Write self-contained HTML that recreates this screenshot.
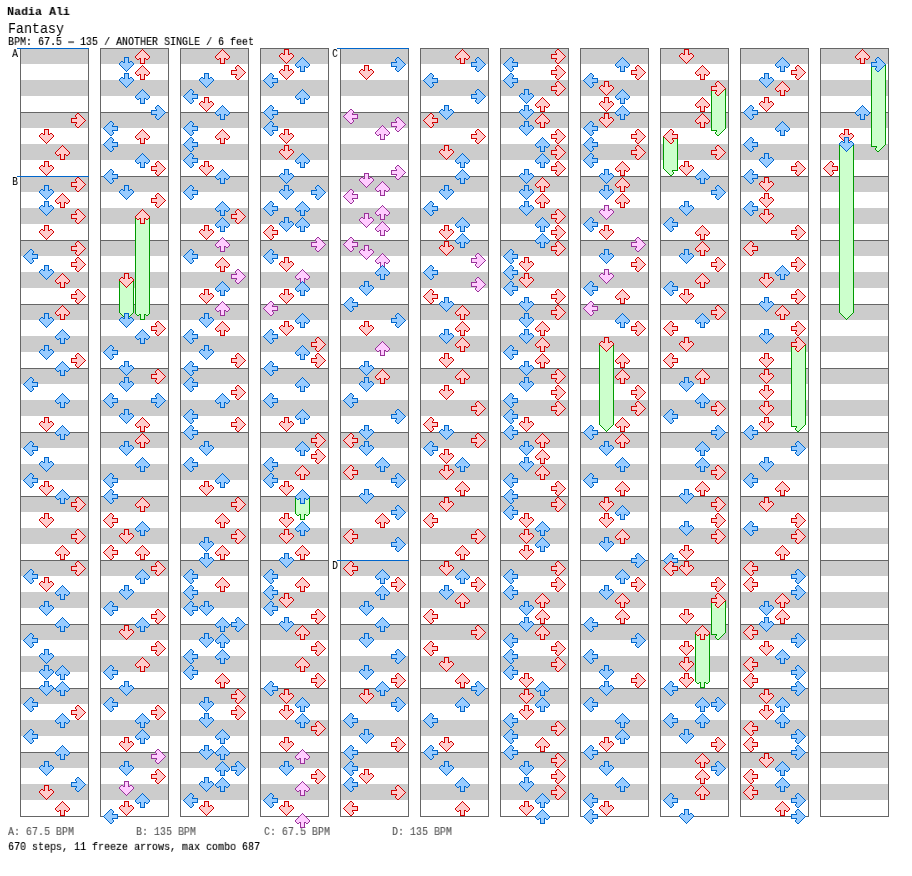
<!DOCTYPE html>
<html><head><meta charset="utf-8"><title>Fantasy</title>
<style>
html,body{margin:0;padding:0;background:#fff}
body{width:912px;height:876px;position:relative;overflow:hidden;font-family:"Liberation Mono",monospace;color:#000}
.t{position:absolute;left:7.5px;white-space:pre;line-height:1;transform-origin:0 0;will-change:transform}
.s6{font-size:12px;transform:scale(.8333,.89);-webkit-text-stroke:.15px}
.c{position:absolute;top:48px;width:67px;height:767px;border:1px solid #666;
 background:
 repeating-linear-gradient(#666 0,#666 0,transparent 0,transparent 63px,#666 63px,#666 64px) 0 0/100% 100%,
 repeating-linear-gradient(#ccc 0,#ccc 15px,#fff 15px,#fff 31px,#ccc 31px,#ccc 32px);
}
.sl{position:absolute;width:72px;height:1px;background:#06c}
.st{position:absolute;font-size:12px;line-height:1;transform:scale(.8333,.89);transform-origin:0 0;will-change:transform}
svg{position:absolute;left:0;top:0}
.r{fill:#fcc;stroke:#d00000}
.b{fill:#9cf;stroke:#06c}
.p{fill:#fcf;stroke:#939}
.g{fill:#cfc;stroke:#090}
path{stroke-width:1;shape-rendering:crispEdges}
</style></head><body>
<div class="t" style="top:7px;left:7.4px;font-size:12px;font-weight:bold;transform:scale(.972,.89)">Nadia Ali</div>
<div class="t" style="top:21.8px;font-size:15.2px;transform:scaleX(.877)">Fantasy</div>
<div class="t s6" style="top:37px">BPM: 67.5 <span style="display:inline-block;transform:scaleX(2)">-</span> 135 / ANOTHER SINGLE / 6 feet</div>
<div class="c" style="left:20px"></div><div class="c" style="left:100px"></div><div class="c" style="left:180px"></div><div class="c" style="left:260px"></div><div class="c" style="left:340px"></div><div class="c" style="left:420px"></div><div class="c" style="left:500px"></div><div class="c" style="left:580px"></div><div class="c" style="left:660px"></div><div class="c" style="left:740px"></div><div class="c" style="left:820px"></div>
<div class="sl" style="left:17px;top:48px"></div><div class="st" style="left:12px;top:49.0px">A</div><div class="sl" style="left:17px;top:176px"></div><div class="st" style="left:12px;top:177.0px">B</div><div class="sl" style="left:337px;top:48px"></div><div class="st" style="left:332px;top:49.0px">C</div><div class="sl" style="left:337px;top:560px"></div><div class="st" style="left:332px;top:561.0px">D</div>
<div class="t s6" style="top:827px;color:#5a5a5a">A: 67.5 BPM</div>
<div class="t s6" style="top:827px;left:136px;color:#5a5a5a">B: 135 BPM</div>
<div class="t s6" style="top:827px;left:264px;color:#5a5a5a">C: 67.5 BPM</div>
<div class="t s6" style="top:827px;left:392px;color:#5a5a5a">D: 135 BPM</div>
<div class="t s6" style="top:842px">670 steps, 11 freeze arrows, max combo 687</div>
<svg width="912" height="876" viewBox="0 0 912 876">
<path class="g" d="M135.5 216.5l0 97l2 2l1 0l1 -1l1 0l0 5l4 0l0 -5l1 0l1 1l1 0l2 -2l0 -97z"/>
<path class="g" d="M119.5 280.5l0 32l7 7l7 -7l0 -32z"/>
<path class="g" d="M295.5 496.5l0 17l2 2l1 0l1 -1l1 0l0 5l4 0l0 -5l1 0l1 1l1 0l2 -2l0 -17z"/>
<path class="g" d="M711.5 88.5l0 40l0 2l5 0l0 1l-1 1l0 1l2 2l1 0l7 -7l0 -40z"/>
<path class="g" d="M663.5 136.5l0 32l7 7l1 0l2 -2l0 -1l-1 -1l0 -1l5 0l0 -2l0 -32z"/>
<path class="g" d="M599.5 344.5l0 80l7 7l7 -7l0 -80z"/>
<path class="g" d="M711.5 600.5l0 32l0 2l5 0l0 1l-1 1l0 1l2 2l1 0l7 -7l0 -32z"/>
<path class="g" d="M695.5 632.5l0 49l2 2l1 0l1 -1l1 0l0 5l4 0l0 -5l1 0l1 1l1 0l2 -2l0 -49z"/>
<path class="g" d="M871.5 64.5l0 80l0 2l5 0l0 1l-1 1l0 1l2 2l1 0l7 -7l0 -80z"/>
<path class="g" d="M839.5 144.5l0 168l7 7l7 -7l0 -168z"/>
<path class="g" d="M791.5 344.5l0 80l0 2l5 0l0 1l-1 1l0 1l2 2l1 0l7 -7l0 -80z"/>
<path class="r" d="M85.5 120.5l-7 -7l-1 0l-2 2l0 1l1 1l0 1l-5 0l0 4l5 0l0 1l-1 1l0 1l2 2l1 0z"/>
<path class="r" d="M46.5 143.5l-7 -7l0 -1l2 -2l1 0l1 1l1 0l0 -5l4 0l0 5l1 0l1 -1l1 0l2 2l0 1z"/>
<path class="r" d="M62.5 145.5l-7 7l0 1l2 2l1 0l1 -1l1 0l0 5l4 0l0 -5l1 0l1 1l1 0l2 -2l0 -1z"/>
<path class="r" d="M46.5 175.5l-7 -7l0 -1l2 -2l1 0l1 1l1 0l0 -5l4 0l0 5l1 0l1 -1l1 0l2 2l0 1z"/>
<path class="r" d="M85.5 184.5l-7 -7l-1 0l-2 2l0 1l1 1l0 1l-5 0l0 4l5 0l0 1l-1 1l0 1l2 2l1 0z"/>
<path class="b" d="M46.5 199.5l-7 -7l0 -1l2 -2l1 0l1 1l1 0l0 -5l4 0l0 5l1 0l1 -1l1 0l2 2l0 1z"/>
<path class="r" d="M62.5 193.5l-7 7l0 1l2 2l1 0l1 -1l1 0l0 5l4 0l0 -5l1 0l1 1l1 0l2 -2l0 -1z"/>
<path class="b" d="M46.5 215.5l-7 -7l0 -1l2 -2l1 0l1 1l1 0l0 -5l4 0l0 5l1 0l1 -1l1 0l2 2l0 1z"/>
<path class="r" d="M85.5 216.5l-7 -7l-1 0l-2 2l0 1l1 1l0 1l-5 0l0 4l5 0l0 1l-1 1l0 1l2 2l1 0z"/>
<path class="r" d="M46.5 239.5l-7 -7l0 -1l2 -2l1 0l1 1l1 0l0 -5l4 0l0 5l1 0l1 -1l1 0l2 2l0 1z"/>
<path class="r" d="M85.5 248.5l-7 -7l-1 0l-2 2l0 1l1 1l0 1l-5 0l0 4l5 0l0 1l-1 1l0 1l2 2l1 0z"/>
<path class="b" d="M23.5 256.5l7 -7l1 0l2 2l0 1l-1 1l0 1l5 0l0 4l-5 0l0 1l1 1l0 1l-2 2l-1 0z"/>
<path class="r" d="M85.5 264.5l-7 -7l-1 0l-2 2l0 1l1 1l0 1l-5 0l0 4l5 0l0 1l-1 1l0 1l2 2l1 0z"/>
<path class="b" d="M46.5 279.5l-7 -7l0 -1l2 -2l1 0l1 1l1 0l0 -5l4 0l0 5l1 0l1 -1l1 0l2 2l0 1z"/>
<path class="r" d="M62.5 273.5l-7 7l0 1l2 2l1 0l1 -1l1 0l0 5l4 0l0 -5l1 0l1 1l1 0l2 -2l0 -1z"/>
<path class="r" d="M85.5 296.5l-7 -7l-1 0l-2 2l0 1l1 1l0 1l-5 0l0 4l5 0l0 1l-1 1l0 1l2 2l1 0z"/>
<path class="r" d="M62.5 305.5l-7 7l0 1l2 2l1 0l1 -1l1 0l0 5l4 0l0 -5l1 0l1 1l1 0l2 -2l0 -1z"/>
<path class="b" d="M46.5 327.5l-7 -7l0 -1l2 -2l1 0l1 1l1 0l0 -5l4 0l0 5l1 0l1 -1l1 0l2 2l0 1z"/>
<path class="b" d="M62.5 329.5l-7 7l0 1l2 2l1 0l1 -1l1 0l0 5l4 0l0 -5l1 0l1 1l1 0l2 -2l0 -1z"/>
<path class="b" d="M46.5 359.5l-7 -7l0 -1l2 -2l1 0l1 1l1 0l0 -5l4 0l0 5l1 0l1 -1l1 0l2 2l0 1z"/>
<path class="r" d="M85.5 360.5l-7 -7l-1 0l-2 2l0 1l1 1l0 1l-5 0l0 4l5 0l0 1l-1 1l0 1l2 2l1 0z"/>
<path class="b" d="M62.5 361.5l-7 7l0 1l2 2l1 0l1 -1l1 0l0 5l4 0l0 -5l1 0l1 1l1 0l2 -2l0 -1z"/>
<path class="b" d="M23.5 384.5l7 -7l1 0l2 2l0 1l-1 1l0 1l5 0l0 4l-5 0l0 1l1 1l0 1l-2 2l-1 0z"/>
<path class="b" d="M62.5 393.5l-7 7l0 1l2 2l1 0l1 -1l1 0l0 5l4 0l0 -5l1 0l1 1l1 0l2 -2l0 -1z"/>
<path class="r" d="M46.5 431.5l-7 -7l0 -1l2 -2l1 0l1 1l1 0l0 -5l4 0l0 5l1 0l1 -1l1 0l2 2l0 1z"/>
<path class="b" d="M62.5 425.5l-7 7l0 1l2 2l1 0l1 -1l1 0l0 5l4 0l0 -5l1 0l1 1l1 0l2 -2l0 -1z"/>
<path class="b" d="M23.5 448.5l7 -7l1 0l2 2l0 1l-1 1l0 1l5 0l0 4l-5 0l0 1l1 1l0 1l-2 2l-1 0z"/>
<path class="b" d="M46.5 471.5l-7 -7l0 -1l2 -2l1 0l1 1l1 0l0 -5l4 0l0 5l1 0l1 -1l1 0l2 2l0 1z"/>
<path class="b" d="M23.5 480.5l7 -7l1 0l2 2l0 1l-1 1l0 1l5 0l0 4l-5 0l0 1l1 1l0 1l-2 2l-1 0z"/>
<path class="r" d="M46.5 495.5l-7 -7l0 -1l2 -2l1 0l1 1l1 0l0 -5l4 0l0 5l1 0l1 -1l1 0l2 2l0 1z"/>
<path class="b" d="M62.5 489.5l-7 7l0 1l2 2l1 0l1 -1l1 0l0 5l4 0l0 -5l1 0l1 1l1 0l2 -2l0 -1z"/>
<path class="r" d="M85.5 504.5l-7 -7l-1 0l-2 2l0 1l1 1l0 1l-5 0l0 4l5 0l0 1l-1 1l0 1l2 2l1 0z"/>
<path class="r" d="M46.5 527.5l-7 -7l0 -1l2 -2l1 0l1 1l1 0l0 -5l4 0l0 5l1 0l1 -1l1 0l2 2l0 1z"/>
<path class="r" d="M85.5 536.5l-7 -7l-1 0l-2 2l0 1l1 1l0 1l-5 0l0 4l5 0l0 1l-1 1l0 1l2 2l1 0z"/>
<path class="r" d="M62.5 545.5l-7 7l0 1l2 2l1 0l1 -1l1 0l0 5l4 0l0 -5l1 0l1 1l1 0l2 -2l0 -1z"/>
<path class="r" d="M85.5 568.5l-7 -7l-1 0l-2 2l0 1l1 1l0 1l-5 0l0 4l5 0l0 1l-1 1l0 1l2 2l1 0z"/>
<path class="b" d="M23.5 576.5l7 -7l1 0l2 2l0 1l-1 1l0 1l5 0l0 4l-5 0l0 1l1 1l0 1l-2 2l-1 0z"/>
<path class="r" d="M46.5 591.5l-7 -7l0 -1l2 -2l1 0l1 1l1 0l0 -5l4 0l0 5l1 0l1 -1l1 0l2 2l0 1z"/>
<path class="b" d="M62.5 585.5l-7 7l0 1l2 2l1 0l1 -1l1 0l0 5l4 0l0 -5l1 0l1 1l1 0l2 -2l0 -1z"/>
<path class="b" d="M46.5 615.5l-7 -7l0 -1l2 -2l1 0l1 1l1 0l0 -5l4 0l0 5l1 0l1 -1l1 0l2 2l0 1z"/>
<path class="b" d="M62.5 617.5l-7 7l0 1l2 2l1 0l1 -1l1 0l0 5l4 0l0 -5l1 0l1 1l1 0l2 -2l0 -1z"/>
<path class="b" d="M23.5 640.5l7 -7l1 0l2 2l0 1l-1 1l0 1l5 0l0 4l-5 0l0 1l1 1l0 1l-2 2l-1 0z"/>
<path class="b" d="M46.5 663.5l-7 -7l0 -1l2 -2l1 0l1 1l1 0l0 -5l4 0l0 5l1 0l1 -1l1 0l2 2l0 1z"/>
<path class="b" d="M46.5 679.5l-7 -7l0 -1l2 -2l1 0l1 1l1 0l0 -5l4 0l0 5l1 0l1 -1l1 0l2 2l0 1z"/>
<path class="b" d="M62.5 665.5l-7 7l0 1l2 2l1 0l1 -1l1 0l0 5l4 0l0 -5l1 0l1 1l1 0l2 -2l0 -1z"/>
<path class="b" d="M46.5 695.5l-7 -7l0 -1l2 -2l1 0l1 1l1 0l0 -5l4 0l0 5l1 0l1 -1l1 0l2 2l0 1z"/>
<path class="b" d="M62.5 681.5l-7 7l0 1l2 2l1 0l1 -1l1 0l0 5l4 0l0 -5l1 0l1 1l1 0l2 -2l0 -1z"/>
<path class="b" d="M23.5 704.5l7 -7l1 0l2 2l0 1l-1 1l0 1l5 0l0 4l-5 0l0 1l1 1l0 1l-2 2l-1 0z"/>
<path class="r" d="M85.5 712.5l-7 -7l-1 0l-2 2l0 1l1 1l0 1l-5 0l0 4l5 0l0 1l-1 1l0 1l2 2l1 0z"/>
<path class="b" d="M62.5 713.5l-7 7l0 1l2 2l1 0l1 -1l1 0l0 5l4 0l0 -5l1 0l1 1l1 0l2 -2l0 -1z"/>
<path class="b" d="M23.5 736.5l7 -7l1 0l2 2l0 1l-1 1l0 1l5 0l0 4l-5 0l0 1l1 1l0 1l-2 2l-1 0z"/>
<path class="b" d="M62.5 745.5l-7 7l0 1l2 2l1 0l1 -1l1 0l0 5l4 0l0 -5l1 0l1 1l1 0l2 -2l0 -1z"/>
<path class="b" d="M46.5 775.5l-7 -7l0 -1l2 -2l1 0l1 1l1 0l0 -5l4 0l0 5l1 0l1 -1l1 0l2 2l0 1z"/>
<path class="b" d="M85.5 784.5l-7 -7l-1 0l-2 2l0 1l1 1l0 1l-5 0l0 4l5 0l0 1l-1 1l0 1l2 2l1 0z"/>
<path class="r" d="M46.5 799.5l-7 -7l0 -1l2 -2l1 0l1 1l1 0l0 -5l4 0l0 5l1 0l1 -1l1 0l2 2l0 1z"/>
<path class="r" d="M62.5 801.5l-7 7l0 1l2 2l1 0l1 -1l1 0l0 5l4 0l0 -5l1 0l1 1l1 0l2 -2l0 -1z"/>
<path class="r" d="M142.5 49.5l-7 7l0 1l2 2l1 0l1 -1l1 0l0 5l4 0l0 -5l1 0l1 1l1 0l2 -2l0 -1z"/>
<path class="b" d="M126.5 71.5l-7 -7l0 -1l2 -2l1 0l1 1l1 0l0 -5l4 0l0 5l1 0l1 -1l1 0l2 2l0 1z"/>
<path class="r" d="M142.5 65.5l-7 7l0 1l2 2l1 0l1 -1l1 0l0 5l4 0l0 -5l1 0l1 1l1 0l2 -2l0 -1z"/>
<path class="b" d="M126.5 87.5l-7 -7l0 -1l2 -2l1 0l1 1l1 0l0 -5l4 0l0 5l1 0l1 -1l1 0l2 2l0 1z"/>
<path class="b" d="M142.5 89.5l-7 7l0 1l2 2l1 0l1 -1l1 0l0 5l4 0l0 -5l1 0l1 1l1 0l2 -2l0 -1z"/>
<path class="b" d="M165.5 112.5l-7 -7l-1 0l-2 2l0 1l1 1l0 1l-5 0l0 4l5 0l0 1l-1 1l0 1l2 2l1 0z"/>
<path class="b" d="M103.5 128.5l7 -7l1 0l2 2l0 1l-1 1l0 1l5 0l0 4l-5 0l0 1l1 1l0 1l-2 2l-1 0z"/>
<path class="r" d="M142.5 129.5l-7 7l0 1l2 2l1 0l1 -1l1 0l0 5l4 0l0 -5l1 0l1 1l1 0l2 -2l0 -1z"/>
<path class="b" d="M103.5 144.5l7 -7l1 0l2 2l0 1l-1 1l0 1l5 0l0 4l-5 0l0 1l1 1l0 1l-2 2l-1 0z"/>
<path class="b" d="M142.5 153.5l-7 7l0 1l2 2l1 0l1 -1l1 0l0 5l4 0l0 -5l1 0l1 1l1 0l2 -2l0 -1z"/>
<path class="r" d="M165.5 168.5l-7 -7l-1 0l-2 2l0 1l1 1l0 1l-5 0l0 4l5 0l0 1l-1 1l0 1l2 2l1 0z"/>
<path class="b" d="M103.5 176.5l7 -7l1 0l2 2l0 1l-1 1l0 1l5 0l0 4l-5 0l0 1l1 1l0 1l-2 2l-1 0z"/>
<path class="b" d="M126.5 199.5l-7 -7l0 -1l2 -2l1 0l1 1l1 0l0 -5l4 0l0 5l1 0l1 -1l1 0l2 2l0 1z"/>
<path class="r" d="M165.5 200.5l-7 -7l-1 0l-2 2l0 1l1 1l0 1l-5 0l0 4l5 0l0 1l-1 1l0 1l2 2l1 0z"/>
<path class="r" d="M142.5 209.5l-7 7l0 1l2 2l1 0l1 -1l1 0l0 5l4 0l0 -5l1 0l1 1l1 0l2 -2l0 -1z"/>
<path class="r" d="M126.5 287.5l-7 -7l0 -1l2 -2l1 0l1 1l1 0l0 -5l4 0l0 5l1 0l1 -1l1 0l2 2l0 1z"/>
<path class="b" d="M126.5 327.5l-7 -7l0 -1l2 -2l1 0l1 1l1 0l0 -5l4 0l0 5l1 0l1 -1l1 0l2 2l0 1z"/>
<path class="r" d="M165.5 328.5l-7 -7l-1 0l-2 2l0 1l1 1l0 1l-5 0l0 4l5 0l0 1l-1 1l0 1l2 2l1 0z"/>
<path class="b" d="M142.5 329.5l-7 7l0 1l2 2l1 0l1 -1l1 0l0 5l4 0l0 -5l1 0l1 1l1 0l2 -2l0 -1z"/>
<path class="b" d="M103.5 352.5l7 -7l1 0l2 2l0 1l-1 1l0 1l5 0l0 4l-5 0l0 1l1 1l0 1l-2 2l-1 0z"/>
<path class="b" d="M126.5 375.5l-7 -7l0 -1l2 -2l1 0l1 1l1 0l0 -5l4 0l0 5l1 0l1 -1l1 0l2 2l0 1z"/>
<path class="r" d="M165.5 376.5l-7 -7l-1 0l-2 2l0 1l1 1l0 1l-5 0l0 4l5 0l0 1l-1 1l0 1l2 2l1 0z"/>
<path class="b" d="M126.5 391.5l-7 -7l0 -1l2 -2l1 0l1 1l1 0l0 -5l4 0l0 5l1 0l1 -1l1 0l2 2l0 1z"/>
<path class="b" d="M103.5 400.5l7 -7l1 0l2 2l0 1l-1 1l0 1l5 0l0 4l-5 0l0 1l1 1l0 1l-2 2l-1 0z"/>
<path class="b" d="M165.5 400.5l-7 -7l-1 0l-2 2l0 1l1 1l0 1l-5 0l0 4l5 0l0 1l-1 1l0 1l2 2l1 0z"/>
<path class="b" d="M126.5 423.5l-7 -7l0 -1l2 -2l1 0l1 1l1 0l0 -5l4 0l0 5l1 0l1 -1l1 0l2 2l0 1z"/>
<path class="r" d="M142.5 417.5l-7 7l0 1l2 2l1 0l1 -1l1 0l0 5l4 0l0 -5l1 0l1 1l1 0l2 -2l0 -1z"/>
<path class="r" d="M142.5 433.5l-7 7l0 1l2 2l1 0l1 -1l1 0l0 5l4 0l0 -5l1 0l1 1l1 0l2 -2l0 -1z"/>
<path class="b" d="M126.5 455.5l-7 -7l0 -1l2 -2l1 0l1 1l1 0l0 -5l4 0l0 5l1 0l1 -1l1 0l2 2l0 1z"/>
<path class="b" d="M142.5 457.5l-7 7l0 1l2 2l1 0l1 -1l1 0l0 5l4 0l0 -5l1 0l1 1l1 0l2 -2l0 -1z"/>
<path class="b" d="M103.5 480.5l7 -7l1 0l2 2l0 1l-1 1l0 1l5 0l0 4l-5 0l0 1l1 1l0 1l-2 2l-1 0z"/>
<path class="b" d="M103.5 496.5l7 -7l1 0l2 2l0 1l-1 1l0 1l5 0l0 4l-5 0l0 1l1 1l0 1l-2 2l-1 0z"/>
<path class="r" d="M142.5 497.5l-7 7l0 1l2 2l1 0l1 -1l1 0l0 5l4 0l0 -5l1 0l1 1l1 0l2 -2l0 -1z"/>
<path class="r" d="M103.5 520.5l7 -7l1 0l2 2l0 1l-1 1l0 1l5 0l0 4l-5 0l0 1l1 1l0 1l-2 2l-1 0z"/>
<path class="b" d="M142.5 521.5l-7 7l0 1l2 2l1 0l1 -1l1 0l0 5l4 0l0 -5l1 0l1 1l1 0l2 -2l0 -1z"/>
<path class="r" d="M126.5 543.5l-7 -7l0 -1l2 -2l1 0l1 1l1 0l0 -5l4 0l0 5l1 0l1 -1l1 0l2 2l0 1z"/>
<path class="r" d="M103.5 552.5l7 -7l1 0l2 2l0 1l-1 1l0 1l5 0l0 4l-5 0l0 1l1 1l0 1l-2 2l-1 0z"/>
<path class="r" d="M142.5 545.5l-7 7l0 1l2 2l1 0l1 -1l1 0l0 5l4 0l0 -5l1 0l1 1l1 0l2 -2l0 -1z"/>
<path class="r" d="M165.5 568.5l-7 -7l-1 0l-2 2l0 1l1 1l0 1l-5 0l0 4l5 0l0 1l-1 1l0 1l2 2l1 0z"/>
<path class="b" d="M142.5 569.5l-7 7l0 1l2 2l1 0l1 -1l1 0l0 5l4 0l0 -5l1 0l1 1l1 0l2 -2l0 -1z"/>
<path class="b" d="M126.5 599.5l-7 -7l0 -1l2 -2l1 0l1 1l1 0l0 -5l4 0l0 5l1 0l1 -1l1 0l2 2l0 1z"/>
<path class="b" d="M103.5 608.5l7 -7l1 0l2 2l0 1l-1 1l0 1l5 0l0 4l-5 0l0 1l1 1l0 1l-2 2l-1 0z"/>
<path class="r" d="M165.5 616.5l-7 -7l-1 0l-2 2l0 1l1 1l0 1l-5 0l0 4l5 0l0 1l-1 1l0 1l2 2l1 0z"/>
<path class="b" d="M142.5 617.5l-7 7l0 1l2 2l1 0l1 -1l1 0l0 5l4 0l0 -5l1 0l1 1l1 0l2 -2l0 -1z"/>
<path class="r" d="M126.5 639.5l-7 -7l0 -1l2 -2l1 0l1 1l1 0l0 -5l4 0l0 5l1 0l1 -1l1 0l2 2l0 1z"/>
<path class="r" d="M165.5 648.5l-7 -7l-1 0l-2 2l0 1l1 1l0 1l-5 0l0 4l5 0l0 1l-1 1l0 1l2 2l1 0z"/>
<path class="r" d="M142.5 657.5l-7 7l0 1l2 2l1 0l1 -1l1 0l0 5l4 0l0 -5l1 0l1 1l1 0l2 -2l0 -1z"/>
<path class="b" d="M103.5 672.5l7 -7l1 0l2 2l0 1l-1 1l0 1l5 0l0 4l-5 0l0 1l1 1l0 1l-2 2l-1 0z"/>
<path class="b" d="M126.5 695.5l-7 -7l0 -1l2 -2l1 0l1 1l1 0l0 -5l4 0l0 5l1 0l1 -1l1 0l2 2l0 1z"/>
<path class="b" d="M103.5 704.5l7 -7l1 0l2 2l0 1l-1 1l0 1l5 0l0 4l-5 0l0 1l1 1l0 1l-2 2l-1 0z"/>
<path class="r" d="M165.5 712.5l-7 -7l-1 0l-2 2l0 1l1 1l0 1l-5 0l0 4l5 0l0 1l-1 1l0 1l2 2l1 0z"/>
<path class="b" d="M142.5 713.5l-7 7l0 1l2 2l1 0l1 -1l1 0l0 5l4 0l0 -5l1 0l1 1l1 0l2 -2l0 -1z"/>
<path class="b" d="M142.5 729.5l-7 7l0 1l2 2l1 0l1 -1l1 0l0 5l4 0l0 -5l1 0l1 1l1 0l2 -2l0 -1z"/>
<path class="r" d="M126.5 751.5l-7 -7l0 -1l2 -2l1 0l1 1l1 0l0 -5l4 0l0 5l1 0l1 -1l1 0l2 2l0 1z"/>
<path class="p" d="M165.5 756.5l-7 -7l-1 0l-2 2l0 1l1 1l0 1l-5 0l0 4l5 0l0 1l-1 1l0 1l2 2l1 0z"/>
<path class="b" d="M126.5 775.5l-7 -7l0 -1l2 -2l1 0l1 1l1 0l0 -5l4 0l0 5l1 0l1 -1l1 0l2 2l0 1z"/>
<path class="r" d="M165.5 776.5l-7 -7l-1 0l-2 2l0 1l1 1l0 1l-5 0l0 4l5 0l0 1l-1 1l0 1l2 2l1 0z"/>
<path class="p" d="M126.5 795.5l-7 -7l0 -1l2 -2l1 0l1 1l1 0l0 -5l4 0l0 5l1 0l1 -1l1 0l2 2l0 1z"/>
<path class="b" d="M142.5 793.5l-7 7l0 1l2 2l1 0l1 -1l1 0l0 5l4 0l0 -5l1 0l1 1l1 0l2 -2l0 -1z"/>
<path class="r" d="M126.5 815.5l-7 -7l0 -1l2 -2l1 0l1 1l1 0l0 -5l4 0l0 5l1 0l1 -1l1 0l2 2l0 1z"/>
<path class="b" d="M103.5 816.5l7 -7l1 0l2 2l0 1l-1 1l0 1l5 0l0 4l-5 0l0 1l1 1l0 1l-2 2l-1 0z"/>
<path class="r" d="M222.5 49.5l-7 7l0 1l2 2l1 0l1 -1l1 0l0 5l4 0l0 -5l1 0l1 1l1 0l2 -2l0 -1z"/>
<path class="r" d="M245.5 72.5l-7 -7l-1 0l-2 2l0 1l1 1l0 1l-5 0l0 4l5 0l0 1l-1 1l0 1l2 2l1 0z"/>
<path class="b" d="M206.5 87.5l-7 -7l0 -1l2 -2l1 0l1 1l1 0l0 -5l4 0l0 5l1 0l1 -1l1 0l2 2l0 1z"/>
<path class="b" d="M183.5 96.5l7 -7l1 0l2 2l0 1l-1 1l0 1l5 0l0 4l-5 0l0 1l1 1l0 1l-2 2l-1 0z"/>
<path class="r" d="M206.5 111.5l-7 -7l0 -1l2 -2l1 0l1 1l1 0l0 -5l4 0l0 5l1 0l1 -1l1 0l2 2l0 1z"/>
<path class="b" d="M222.5 105.5l-7 7l0 1l2 2l1 0l1 -1l1 0l0 5l4 0l0 -5l1 0l1 1l1 0l2 -2l0 -1z"/>
<path class="b" d="M183.5 128.5l7 -7l1 0l2 2l0 1l-1 1l0 1l5 0l0 4l-5 0l0 1l1 1l0 1l-2 2l-1 0z"/>
<path class="r" d="M222.5 129.5l-7 7l0 1l2 2l1 0l1 -1l1 0l0 5l4 0l0 -5l1 0l1 1l1 0l2 -2l0 -1z"/>
<path class="b" d="M183.5 144.5l7 -7l1 0l2 2l0 1l-1 1l0 1l5 0l0 4l-5 0l0 1l1 1l0 1l-2 2l-1 0z"/>
<path class="b" d="M183.5 160.5l7 -7l1 0l2 2l0 1l-1 1l0 1l5 0l0 4l-5 0l0 1l1 1l0 1l-2 2l-1 0z"/>
<path class="r" d="M206.5 175.5l-7 -7l0 -1l2 -2l1 0l1 1l1 0l0 -5l4 0l0 5l1 0l1 -1l1 0l2 2l0 1z"/>
<path class="b" d="M222.5 169.5l-7 7l0 1l2 2l1 0l1 -1l1 0l0 5l4 0l0 -5l1 0l1 1l1 0l2 -2l0 -1z"/>
<path class="b" d="M183.5 192.5l7 -7l1 0l2 2l0 1l-1 1l0 1l5 0l0 4l-5 0l0 1l1 1l0 1l-2 2l-1 0z"/>
<path class="b" d="M222.5 201.5l-7 7l0 1l2 2l1 0l1 -1l1 0l0 5l4 0l0 -5l1 0l1 1l1 0l2 -2l0 -1z"/>
<path class="r" d="M245.5 216.5l-7 -7l-1 0l-2 2l0 1l1 1l0 1l-5 0l0 4l5 0l0 1l-1 1l0 1l2 2l1 0z"/>
<path class="b" d="M222.5 217.5l-7 7l0 1l2 2l1 0l1 -1l1 0l0 5l4 0l0 -5l1 0l1 1l1 0l2 -2l0 -1z"/>
<path class="r" d="M206.5 239.5l-7 -7l0 -1l2 -2l1 0l1 1l1 0l0 -5l4 0l0 5l1 0l1 -1l1 0l2 2l0 1z"/>
<path class="p" d="M222.5 237.5l-7 7l0 1l2 2l1 0l1 -1l1 0l0 5l4 0l0 -5l1 0l1 1l1 0l2 -2l0 -1z"/>
<path class="b" d="M183.5 256.5l7 -7l1 0l2 2l0 1l-1 1l0 1l5 0l0 4l-5 0l0 1l1 1l0 1l-2 2l-1 0z"/>
<path class="r" d="M222.5 257.5l-7 7l0 1l2 2l1 0l1 -1l1 0l0 5l4 0l0 -5l1 0l1 1l1 0l2 -2l0 -1z"/>
<path class="p" d="M245.5 276.5l-7 -7l-1 0l-2 2l0 1l1 1l0 1l-5 0l0 4l5 0l0 1l-1 1l0 1l2 2l1 0z"/>
<path class="b" d="M222.5 281.5l-7 7l0 1l2 2l1 0l1 -1l1 0l0 5l4 0l0 -5l1 0l1 1l1 0l2 -2l0 -1z"/>
<path class="r" d="M206.5 303.5l-7 -7l0 -1l2 -2l1 0l1 1l1 0l0 -5l4 0l0 5l1 0l1 -1l1 0l2 2l0 1z"/>
<path class="p" d="M222.5 301.5l-7 7l0 1l2 2l1 0l1 -1l1 0l0 5l4 0l0 -5l1 0l1 1l1 0l2 -2l0 -1z"/>
<path class="b" d="M206.5 327.5l-7 -7l0 -1l2 -2l1 0l1 1l1 0l0 -5l4 0l0 5l1 0l1 -1l1 0l2 2l0 1z"/>
<path class="r" d="M222.5 321.5l-7 7l0 1l2 2l1 0l1 -1l1 0l0 5l4 0l0 -5l1 0l1 1l1 0l2 -2l0 -1z"/>
<path class="b" d="M183.5 336.5l7 -7l1 0l2 2l0 1l-1 1l0 1l5 0l0 4l-5 0l0 1l1 1l0 1l-2 2l-1 0z"/>
<path class="b" d="M206.5 359.5l-7 -7l0 -1l2 -2l1 0l1 1l1 0l0 -5l4 0l0 5l1 0l1 -1l1 0l2 2l0 1z"/>
<path class="r" d="M245.5 360.5l-7 -7l-1 0l-2 2l0 1l1 1l0 1l-5 0l0 4l5 0l0 1l-1 1l0 1l2 2l1 0z"/>
<path class="b" d="M183.5 368.5l7 -7l1 0l2 2l0 1l-1 1l0 1l5 0l0 4l-5 0l0 1l1 1l0 1l-2 2l-1 0z"/>
<path class="b" d="M183.5 384.5l7 -7l1 0l2 2l0 1l-1 1l0 1l5 0l0 4l-5 0l0 1l1 1l0 1l-2 2l-1 0z"/>
<path class="r" d="M245.5 392.5l-7 -7l-1 0l-2 2l0 1l1 1l0 1l-5 0l0 4l5 0l0 1l-1 1l0 1l2 2l1 0z"/>
<path class="b" d="M222.5 393.5l-7 7l0 1l2 2l1 0l1 -1l1 0l0 5l4 0l0 -5l1 0l1 1l1 0l2 -2l0 -1z"/>
<path class="b" d="M183.5 416.5l7 -7l1 0l2 2l0 1l-1 1l0 1l5 0l0 4l-5 0l0 1l1 1l0 1l-2 2l-1 0z"/>
<path class="r" d="M245.5 424.5l-7 -7l-1 0l-2 2l0 1l1 1l0 1l-5 0l0 4l5 0l0 1l-1 1l0 1l2 2l1 0z"/>
<path class="b" d="M183.5 432.5l7 -7l1 0l2 2l0 1l-1 1l0 1l5 0l0 4l-5 0l0 1l1 1l0 1l-2 2l-1 0z"/>
<path class="b" d="M206.5 455.5l-7 -7l0 -1l2 -2l1 0l1 1l1 0l0 -5l4 0l0 5l1 0l1 -1l1 0l2 2l0 1z"/>
<path class="b" d="M183.5 464.5l7 -7l1 0l2 2l0 1l-1 1l0 1l5 0l0 4l-5 0l0 1l1 1l0 1l-2 2l-1 0z"/>
<path class="b" d="M222.5 473.5l-7 7l0 1l2 2l1 0l1 -1l1 0l0 5l4 0l0 -5l1 0l1 1l1 0l2 -2l0 -1z"/>
<path class="r" d="M206.5 495.5l-7 -7l0 -1l2 -2l1 0l1 1l1 0l0 -5l4 0l0 5l1 0l1 -1l1 0l2 2l0 1z"/>
<path class="r" d="M245.5 504.5l-7 -7l-1 0l-2 2l0 1l1 1l0 1l-5 0l0 4l5 0l0 1l-1 1l0 1l2 2l1 0z"/>
<path class="r" d="M222.5 513.5l-7 7l0 1l2 2l1 0l1 -1l1 0l0 5l4 0l0 -5l1 0l1 1l1 0l2 -2l0 -1z"/>
<path class="r" d="M245.5 536.5l-7 -7l-1 0l-2 2l0 1l1 1l0 1l-5 0l0 4l5 0l0 1l-1 1l0 1l2 2l1 0z"/>
<path class="b" d="M206.5 551.5l-7 -7l0 -1l2 -2l1 0l1 1l1 0l0 -5l4 0l0 5l1 0l1 -1l1 0l2 2l0 1z"/>
<path class="r" d="M222.5 545.5l-7 7l0 1l2 2l1 0l1 -1l1 0l0 5l4 0l0 -5l1 0l1 1l1 0l2 -2l0 -1z"/>
<path class="b" d="M206.5 567.5l-7 -7l0 -1l2 -2l1 0l1 1l1 0l0 -5l4 0l0 5l1 0l1 -1l1 0l2 2l0 1z"/>
<path class="b" d="M183.5 576.5l7 -7l1 0l2 2l0 1l-1 1l0 1l5 0l0 4l-5 0l0 1l1 1l0 1l-2 2l-1 0z"/>
<path class="r" d="M222.5 577.5l-7 7l0 1l2 2l1 0l1 -1l1 0l0 5l4 0l0 -5l1 0l1 1l1 0l2 -2l0 -1z"/>
<path class="b" d="M183.5 592.5l7 -7l1 0l2 2l0 1l-1 1l0 1l5 0l0 4l-5 0l0 1l1 1l0 1l-2 2l-1 0z"/>
<path class="b" d="M183.5 608.5l7 -7l1 0l2 2l0 1l-1 1l0 1l5 0l0 4l-5 0l0 1l1 1l0 1l-2 2l-1 0z"/>
<path class="b" d="M206.5 615.5l-7 -7l0 -1l2 -2l1 0l1 1l1 0l0 -5l4 0l0 5l1 0l1 -1l1 0l2 2l0 1z"/>
<path class="b" d="M222.5 617.5l-7 7l0 1l2 2l1 0l1 -1l1 0l0 5l4 0l0 -5l1 0l1 1l1 0l2 -2l0 -1z"/>
<path class="b" d="M245.5 624.5l-7 -7l-1 0l-2 2l0 1l1 1l0 1l-5 0l0 4l5 0l0 1l-1 1l0 1l2 2l1 0z"/>
<path class="b" d="M206.5 647.5l-7 -7l0 -1l2 -2l1 0l1 1l1 0l0 -5l4 0l0 5l1 0l1 -1l1 0l2 2l0 1z"/>
<path class="b" d="M222.5 633.5l-7 7l0 1l2 2l1 0l1 -1l1 0l0 5l4 0l0 -5l1 0l1 1l1 0l2 -2l0 -1z"/>
<path class="b" d="M183.5 656.5l7 -7l1 0l2 2l0 1l-1 1l0 1l5 0l0 4l-5 0l0 1l1 1l0 1l-2 2l-1 0z"/>
<path class="b" d="M222.5 649.5l-7 7l0 1l2 2l1 0l1 -1l1 0l0 5l4 0l0 -5l1 0l1 1l1 0l2 -2l0 -1z"/>
<path class="b" d="M183.5 672.5l7 -7l1 0l2 2l0 1l-1 1l0 1l5 0l0 4l-5 0l0 1l1 1l0 1l-2 2l-1 0z"/>
<path class="r" d="M222.5 673.5l-7 7l0 1l2 2l1 0l1 -1l1 0l0 5l4 0l0 -5l1 0l1 1l1 0l2 -2l0 -1z"/>
<path class="r" d="M245.5 696.5l-7 -7l-1 0l-2 2l0 1l1 1l0 1l-5 0l0 4l5 0l0 1l-1 1l0 1l2 2l1 0z"/>
<path class="b" d="M206.5 711.5l-7 -7l0 -1l2 -2l1 0l1 1l1 0l0 -5l4 0l0 5l1 0l1 -1l1 0l2 2l0 1z"/>
<path class="r" d="M245.5 712.5l-7 -7l-1 0l-2 2l0 1l1 1l0 1l-5 0l0 4l5 0l0 1l-1 1l0 1l2 2l1 0z"/>
<path class="b" d="M206.5 727.5l-7 -7l0 -1l2 -2l1 0l1 1l1 0l0 -5l4 0l0 5l1 0l1 -1l1 0l2 2l0 1z"/>
<path class="b" d="M222.5 729.5l-7 7l0 1l2 2l1 0l1 -1l1 0l0 5l4 0l0 -5l1 0l1 1l1 0l2 -2l0 -1z"/>
<path class="b" d="M206.5 759.5l-7 -7l0 -1l2 -2l1 0l1 1l1 0l0 -5l4 0l0 5l1 0l1 -1l1 0l2 2l0 1z"/>
<path class="b" d="M222.5 745.5l-7 7l0 1l2 2l1 0l1 -1l1 0l0 5l4 0l0 -5l1 0l1 1l1 0l2 -2l0 -1z"/>
<path class="b" d="M222.5 761.5l-7 7l0 1l2 2l1 0l1 -1l1 0l0 5l4 0l0 -5l1 0l1 1l1 0l2 -2l0 -1z"/>
<path class="b" d="M245.5 768.5l-7 -7l-1 0l-2 2l0 1l1 1l0 1l-5 0l0 4l5 0l0 1l-1 1l0 1l2 2l1 0z"/>
<path class="b" d="M206.5 791.5l-7 -7l0 -1l2 -2l1 0l1 1l1 0l0 -5l4 0l0 5l1 0l1 -1l1 0l2 2l0 1z"/>
<path class="b" d="M222.5 777.5l-7 7l0 1l2 2l1 0l1 -1l1 0l0 5l4 0l0 -5l1 0l1 1l1 0l2 -2l0 -1z"/>
<path class="b" d="M183.5 800.5l7 -7l1 0l2 2l0 1l-1 1l0 1l5 0l0 4l-5 0l0 1l1 1l0 1l-2 2l-1 0z"/>
<path class="r" d="M206.5 815.5l-7 -7l0 -1l2 -2l1 0l1 1l1 0l0 -5l4 0l0 5l1 0l1 -1l1 0l2 2l0 1z"/>
<path class="r" d="M286.5 63.5l-7 -7l0 -1l2 -2l1 0l1 1l1 0l0 -5l4 0l0 5l1 0l1 -1l1 0l2 2l0 1z"/>
<path class="b" d="M302.5 57.5l-7 7l0 1l2 2l1 0l1 -1l1 0l0 5l4 0l0 -5l1 0l1 1l1 0l2 -2l0 -1z"/>
<path class="r" d="M286.5 79.5l-7 -7l0 -1l2 -2l1 0l1 1l1 0l0 -5l4 0l0 5l1 0l1 -1l1 0l2 2l0 1z"/>
<path class="b" d="M263.5 80.5l7 -7l1 0l2 2l0 1l-1 1l0 1l5 0l0 4l-5 0l0 1l1 1l0 1l-2 2l-1 0z"/>
<path class="b" d="M302.5 89.5l-7 7l0 1l2 2l1 0l1 -1l1 0l0 5l4 0l0 -5l1 0l1 1l1 0l2 -2l0 -1z"/>
<path class="b" d="M263.5 112.5l7 -7l1 0l2 2l0 1l-1 1l0 1l5 0l0 4l-5 0l0 1l1 1l0 1l-2 2l-1 0z"/>
<path class="b" d="M263.5 128.5l7 -7l1 0l2 2l0 1l-1 1l0 1l5 0l0 4l-5 0l0 1l1 1l0 1l-2 2l-1 0z"/>
<path class="r" d="M286.5 143.5l-7 -7l0 -1l2 -2l1 0l1 1l1 0l0 -5l4 0l0 5l1 0l1 -1l1 0l2 2l0 1z"/>
<path class="r" d="M286.5 159.5l-7 -7l0 -1l2 -2l1 0l1 1l1 0l0 -5l4 0l0 5l1 0l1 -1l1 0l2 2l0 1z"/>
<path class="b" d="M302.5 153.5l-7 7l0 1l2 2l1 0l1 -1l1 0l0 5l4 0l0 -5l1 0l1 1l1 0l2 -2l0 -1z"/>
<path class="b" d="M286.5 183.5l-7 -7l0 -1l2 -2l1 0l1 1l1 0l0 -5l4 0l0 5l1 0l1 -1l1 0l2 2l0 1z"/>
<path class="b" d="M286.5 199.5l-7 -7l0 -1l2 -2l1 0l1 1l1 0l0 -5l4 0l0 5l1 0l1 -1l1 0l2 2l0 1z"/>
<path class="b" d="M325.5 192.5l-7 -7l-1 0l-2 2l0 1l1 1l0 1l-5 0l0 4l5 0l0 1l-1 1l0 1l2 2l1 0z"/>
<path class="b" d="M263.5 208.5l7 -7l1 0l2 2l0 1l-1 1l0 1l5 0l0 4l-5 0l0 1l1 1l0 1l-2 2l-1 0z"/>
<path class="b" d="M302.5 201.5l-7 7l0 1l2 2l1 0l1 -1l1 0l0 5l4 0l0 -5l1 0l1 1l1 0l2 -2l0 -1z"/>
<path class="b" d="M286.5 231.5l-7 -7l0 -1l2 -2l1 0l1 1l1 0l0 -5l4 0l0 5l1 0l1 -1l1 0l2 2l0 1z"/>
<path class="b" d="M302.5 217.5l-7 7l0 1l2 2l1 0l1 -1l1 0l0 5l4 0l0 -5l1 0l1 1l1 0l2 -2l0 -1z"/>
<path class="r" d="M263.5 232.5l7 -7l1 0l2 2l0 1l-1 1l0 1l5 0l0 4l-5 0l0 1l1 1l0 1l-2 2l-1 0z"/>
<path class="p" d="M325.5 244.5l-7 -7l-1 0l-2 2l0 1l1 1l0 1l-5 0l0 4l5 0l0 1l-1 1l0 1l2 2l1 0z"/>
<path class="b" d="M263.5 256.5l7 -7l1 0l2 2l0 1l-1 1l0 1l5 0l0 4l-5 0l0 1l1 1l0 1l-2 2l-1 0z"/>
<path class="r" d="M286.5 271.5l-7 -7l0 -1l2 -2l1 0l1 1l1 0l0 -5l4 0l0 5l1 0l1 -1l1 0l2 2l0 1z"/>
<path class="p" d="M302.5 269.5l-7 7l0 1l2 2l1 0l1 -1l1 0l0 5l4 0l0 -5l1 0l1 1l1 0l2 -2l0 -1z"/>
<path class="b" d="M302.5 281.5l-7 7l0 1l2 2l1 0l1 -1l1 0l0 5l4 0l0 -5l1 0l1 1l1 0l2 -2l0 -1z"/>
<path class="r" d="M286.5 303.5l-7 -7l0 -1l2 -2l1 0l1 1l1 0l0 -5l4 0l0 5l1 0l1 -1l1 0l2 2l0 1z"/>
<path class="p" d="M263.5 308.5l7 -7l1 0l2 2l0 1l-1 1l0 1l5 0l0 4l-5 0l0 1l1 1l0 1l-2 2l-1 0z"/>
<path class="b" d="M302.5 313.5l-7 7l0 1l2 2l1 0l1 -1l1 0l0 5l4 0l0 -5l1 0l1 1l1 0l2 -2l0 -1z"/>
<path class="r" d="M286.5 335.5l-7 -7l0 -1l2 -2l1 0l1 1l1 0l0 -5l4 0l0 5l1 0l1 -1l1 0l2 2l0 1z"/>
<path class="b" d="M263.5 336.5l7 -7l1 0l2 2l0 1l-1 1l0 1l5 0l0 4l-5 0l0 1l1 1l0 1l-2 2l-1 0z"/>
<path class="r" d="M325.5 344.5l-7 -7l-1 0l-2 2l0 1l1 1l0 1l-5 0l0 4l5 0l0 1l-1 1l0 1l2 2l1 0z"/>
<path class="b" d="M302.5 345.5l-7 7l0 1l2 2l1 0l1 -1l1 0l0 5l4 0l0 -5l1 0l1 1l1 0l2 -2l0 -1z"/>
<path class="r" d="M325.5 360.5l-7 -7l-1 0l-2 2l0 1l1 1l0 1l-5 0l0 4l5 0l0 1l-1 1l0 1l2 2l1 0z"/>
<path class="b" d="M263.5 368.5l7 -7l1 0l2 2l0 1l-1 1l0 1l5 0l0 4l-5 0l0 1l1 1l0 1l-2 2l-1 0z"/>
<path class="b" d="M302.5 377.5l-7 7l0 1l2 2l1 0l1 -1l1 0l0 5l4 0l0 -5l1 0l1 1l1 0l2 -2l0 -1z"/>
<path class="b" d="M263.5 400.5l7 -7l1 0l2 2l0 1l-1 1l0 1l5 0l0 4l-5 0l0 1l1 1l0 1l-2 2l-1 0z"/>
<path class="b" d="M302.5 409.5l-7 7l0 1l2 2l1 0l1 -1l1 0l0 5l4 0l0 -5l1 0l1 1l1 0l2 -2l0 -1z"/>
<path class="r" d="M286.5 431.5l-7 -7l0 -1l2 -2l1 0l1 1l1 0l0 -5l4 0l0 5l1 0l1 -1l1 0l2 2l0 1z"/>
<path class="r" d="M325.5 440.5l-7 -7l-1 0l-2 2l0 1l1 1l0 1l-5 0l0 4l5 0l0 1l-1 1l0 1l2 2l1 0z"/>
<path class="b" d="M302.5 441.5l-7 7l0 1l2 2l1 0l1 -1l1 0l0 5l4 0l0 -5l1 0l1 1l1 0l2 -2l0 -1z"/>
<path class="r" d="M325.5 456.5l-7 -7l-1 0l-2 2l0 1l1 1l0 1l-5 0l0 4l5 0l0 1l-1 1l0 1l2 2l1 0z"/>
<path class="b" d="M263.5 464.5l7 -7l1 0l2 2l0 1l-1 1l0 1l5 0l0 4l-5 0l0 1l1 1l0 1l-2 2l-1 0z"/>
<path class="r" d="M302.5 465.5l-7 7l0 1l2 2l1 0l1 -1l1 0l0 5l4 0l0 -5l1 0l1 1l1 0l2 -2l0 -1z"/>
<path class="b" d="M263.5 480.5l7 -7l1 0l2 2l0 1l-1 1l0 1l5 0l0 4l-5 0l0 1l1 1l0 1l-2 2l-1 0z"/>
<path class="r" d="M286.5 495.5l-7 -7l0 -1l2 -2l1 0l1 1l1 0l0 -5l4 0l0 5l1 0l1 -1l1 0l2 2l0 1z"/>
<path class="b" d="M302.5 489.5l-7 7l0 1l2 2l1 0l1 -1l1 0l0 5l4 0l0 -5l1 0l1 1l1 0l2 -2l0 -1z"/>
<path class="r" d="M286.5 527.5l-7 -7l0 -1l2 -2l1 0l1 1l1 0l0 -5l4 0l0 5l1 0l1 -1l1 0l2 2l0 1z"/>
<path class="b" d="M302.5 521.5l-7 7l0 1l2 2l1 0l1 -1l1 0l0 5l4 0l0 -5l1 0l1 1l1 0l2 -2l0 -1z"/>
<path class="r" d="M286.5 543.5l-7 -7l0 -1l2 -2l1 0l1 1l1 0l0 -5l4 0l0 5l1 0l1 -1l1 0l2 2l0 1z"/>
<path class="r" d="M302.5 545.5l-7 7l0 1l2 2l1 0l1 -1l1 0l0 5l4 0l0 -5l1 0l1 1l1 0l2 -2l0 -1z"/>
<path class="b" d="M286.5 567.5l-7 -7l0 -1l2 -2l1 0l1 1l1 0l0 -5l4 0l0 5l1 0l1 -1l1 0l2 2l0 1z"/>
<path class="b" d="M263.5 576.5l7 -7l1 0l2 2l0 1l-1 1l0 1l5 0l0 4l-5 0l0 1l1 1l0 1l-2 2l-1 0z"/>
<path class="r" d="M302.5 577.5l-7 7l0 1l2 2l1 0l1 -1l1 0l0 5l4 0l0 -5l1 0l1 1l1 0l2 -2l0 -1z"/>
<path class="b" d="M263.5 592.5l7 -7l1 0l2 2l0 1l-1 1l0 1l5 0l0 4l-5 0l0 1l1 1l0 1l-2 2l-1 0z"/>
<path class="r" d="M286.5 607.5l-7 -7l0 -1l2 -2l1 0l1 1l1 0l0 -5l4 0l0 5l1 0l1 -1l1 0l2 2l0 1z"/>
<path class="b" d="M263.5 608.5l7 -7l1 0l2 2l0 1l-1 1l0 1l5 0l0 4l-5 0l0 1l1 1l0 1l-2 2l-1 0z"/>
<path class="r" d="M325.5 616.5l-7 -7l-1 0l-2 2l0 1l1 1l0 1l-5 0l0 4l5 0l0 1l-1 1l0 1l2 2l1 0z"/>
<path class="b" d="M286.5 631.5l-7 -7l0 -1l2 -2l1 0l1 1l1 0l0 -5l4 0l0 5l1 0l1 -1l1 0l2 2l0 1z"/>
<path class="r" d="M302.5 625.5l-7 7l0 1l2 2l1 0l1 -1l1 0l0 5l4 0l0 -5l1 0l1 1l1 0l2 -2l0 -1z"/>
<path class="r" d="M325.5 648.5l-7 -7l-1 0l-2 2l0 1l1 1l0 1l-5 0l0 4l5 0l0 1l-1 1l0 1l2 2l1 0z"/>
<path class="r" d="M302.5 657.5l-7 7l0 1l2 2l1 0l1 -1l1 0l0 5l4 0l0 -5l1 0l1 1l1 0l2 -2l0 -1z"/>
<path class="r" d="M325.5 680.5l-7 -7l-1 0l-2 2l0 1l1 1l0 1l-5 0l0 4l5 0l0 1l-1 1l0 1l2 2l1 0z"/>
<path class="b" d="M263.5 688.5l7 -7l1 0l2 2l0 1l-1 1l0 1l5 0l0 4l-5 0l0 1l1 1l0 1l-2 2l-1 0z"/>
<path class="r" d="M286.5 703.5l-7 -7l0 -1l2 -2l1 0l1 1l1 0l0 -5l4 0l0 5l1 0l1 -1l1 0l2 2l0 1z"/>
<path class="b" d="M302.5 697.5l-7 7l0 1l2 2l1 0l1 -1l1 0l0 5l4 0l0 -5l1 0l1 1l1 0l2 -2l0 -1z"/>
<path class="r" d="M286.5 719.5l-7 -7l0 -1l2 -2l1 0l1 1l1 0l0 -5l4 0l0 5l1 0l1 -1l1 0l2 2l0 1z"/>
<path class="b" d="M302.5 713.5l-7 7l0 1l2 2l1 0l1 -1l1 0l0 5l4 0l0 -5l1 0l1 1l1 0l2 -2l0 -1z"/>
<path class="r" d="M325.5 728.5l-7 -7l-1 0l-2 2l0 1l1 1l0 1l-5 0l0 4l5 0l0 1l-1 1l0 1l2 2l1 0z"/>
<path class="r" d="M286.5 751.5l-7 -7l0 -1l2 -2l1 0l1 1l1 0l0 -5l4 0l0 5l1 0l1 -1l1 0l2 2l0 1z"/>
<path class="p" d="M302.5 749.5l-7 7l0 1l2 2l1 0l1 -1l1 0l0 5l4 0l0 -5l1 0l1 1l1 0l2 -2l0 -1z"/>
<path class="b" d="M286.5 775.5l-7 -7l0 -1l2 -2l1 0l1 1l1 0l0 -5l4 0l0 5l1 0l1 -1l1 0l2 2l0 1z"/>
<path class="r" d="M325.5 776.5l-7 -7l-1 0l-2 2l0 1l1 1l0 1l-5 0l0 4l5 0l0 1l-1 1l0 1l2 2l1 0z"/>
<path class="p" d="M302.5 781.5l-7 7l0 1l2 2l1 0l1 -1l1 0l0 5l4 0l0 -5l1 0l1 1l1 0l2 -2l0 -1z"/>
<path class="b" d="M263.5 800.5l7 -7l1 0l2 2l0 1l-1 1l0 1l5 0l0 4l-5 0l0 1l1 1l0 1l-2 2l-1 0z"/>
<path class="r" d="M286.5 815.5l-7 -7l0 -1l2 -2l1 0l1 1l1 0l0 -5l4 0l0 5l1 0l1 -1l1 0l2 2l0 1z"/>
<path class="p" d="M302.5 813.5l-7 7l0 1l2 2l1 0l1 -1l1 0l0 5l4 0l0 -5l1 0l1 1l1 0l2 -2l0 -1z"/>
<path class="b" d="M405.5 64.5l-7 -7l-1 0l-2 2l0 1l1 1l0 1l-5 0l0 4l5 0l0 1l-1 1l0 1l2 2l1 0z"/>
<path class="r" d="M366.5 79.5l-7 -7l0 -1l2 -2l1 0l1 1l1 0l0 -5l4 0l0 5l1 0l1 -1l1 0l2 2l0 1z"/>
<path class="p" d="M343.5 116.5l7 -7l1 0l2 2l0 1l-1 1l0 1l5 0l0 4l-5 0l0 1l1 1l0 1l-2 2l-1 0z"/>
<path class="p" d="M405.5 124.5l-7 -7l-1 0l-2 2l0 1l1 1l0 1l-5 0l0 4l5 0l0 1l-1 1l0 1l2 2l1 0z"/>
<path class="p" d="M382.5 125.5l-7 7l0 1l2 2l1 0l1 -1l1 0l0 5l4 0l0 -5l1 0l1 1l1 0l2 -2l0 -1z"/>
<path class="p" d="M405.5 172.5l-7 -7l-1 0l-2 2l0 1l1 1l0 1l-5 0l0 4l5 0l0 1l-1 1l0 1l2 2l1 0z"/>
<path class="p" d="M366.5 187.5l-7 -7l0 -1l2 -2l1 0l1 1l1 0l0 -5l4 0l0 5l1 0l1 -1l1 0l2 2l0 1z"/>
<path class="p" d="M382.5 181.5l-7 7l0 1l2 2l1 0l1 -1l1 0l0 5l4 0l0 -5l1 0l1 1l1 0l2 -2l0 -1z"/>
<path class="p" d="M343.5 196.5l7 -7l1 0l2 2l0 1l-1 1l0 1l5 0l0 4l-5 0l0 1l1 1l0 1l-2 2l-1 0z"/>
<path class="p" d="M382.5 205.5l-7 7l0 1l2 2l1 0l1 -1l1 0l0 5l4 0l0 -5l1 0l1 1l1 0l2 -2l0 -1z"/>
<path class="p" d="M366.5 227.5l-7 -7l0 -1l2 -2l1 0l1 1l1 0l0 -5l4 0l0 5l1 0l1 -1l1 0l2 2l0 1z"/>
<path class="p" d="M382.5 221.5l-7 7l0 1l2 2l1 0l1 -1l1 0l0 5l4 0l0 -5l1 0l1 1l1 0l2 -2l0 -1z"/>
<path class="p" d="M343.5 244.5l7 -7l1 0l2 2l0 1l-1 1l0 1l5 0l0 4l-5 0l0 1l1 1l0 1l-2 2l-1 0z"/>
<path class="p" d="M366.5 259.5l-7 -7l0 -1l2 -2l1 0l1 1l1 0l0 -5l4 0l0 5l1 0l1 -1l1 0l2 2l0 1z"/>
<path class="p" d="M382.5 253.5l-7 7l0 1l2 2l1 0l1 -1l1 0l0 5l4 0l0 -5l1 0l1 1l1 0l2 -2l0 -1z"/>
<path class="b" d="M382.5 265.5l-7 7l0 1l2 2l1 0l1 -1l1 0l0 5l4 0l0 -5l1 0l1 1l1 0l2 -2l0 -1z"/>
<path class="b" d="M366.5 295.5l-7 -7l0 -1l2 -2l1 0l1 1l1 0l0 -5l4 0l0 5l1 0l1 -1l1 0l2 2l0 1z"/>
<path class="b" d="M343.5 304.5l7 -7l1 0l2 2l0 1l-1 1l0 1l5 0l0 4l-5 0l0 1l1 1l0 1l-2 2l-1 0z"/>
<path class="b" d="M405.5 320.5l-7 -7l-1 0l-2 2l0 1l1 1l0 1l-5 0l0 4l5 0l0 1l-1 1l0 1l2 2l1 0z"/>
<path class="r" d="M366.5 335.5l-7 -7l0 -1l2 -2l1 0l1 1l1 0l0 -5l4 0l0 5l1 0l1 -1l1 0l2 2l0 1z"/>
<path class="p" d="M382.5 341.5l-7 7l0 1l2 2l1 0l1 -1l1 0l0 5l4 0l0 -5l1 0l1 1l1 0l2 -2l0 -1z"/>
<path class="b" d="M366.5 375.5l-7 -7l0 -1l2 -2l1 0l1 1l1 0l0 -5l4 0l0 5l1 0l1 -1l1 0l2 2l0 1z"/>
<path class="r" d="M382.5 369.5l-7 7l0 1l2 2l1 0l1 -1l1 0l0 5l4 0l0 -5l1 0l1 1l1 0l2 -2l0 -1z"/>
<path class="b" d="M366.5 391.5l-7 -7l0 -1l2 -2l1 0l1 1l1 0l0 -5l4 0l0 5l1 0l1 -1l1 0l2 2l0 1z"/>
<path class="b" d="M343.5 400.5l7 -7l1 0l2 2l0 1l-1 1l0 1l5 0l0 4l-5 0l0 1l1 1l0 1l-2 2l-1 0z"/>
<path class="b" d="M405.5 416.5l-7 -7l-1 0l-2 2l0 1l1 1l0 1l-5 0l0 4l5 0l0 1l-1 1l0 1l2 2l1 0z"/>
<path class="b" d="M366.5 439.5l-7 -7l0 -1l2 -2l1 0l1 1l1 0l0 -5l4 0l0 5l1 0l1 -1l1 0l2 2l0 1z"/>
<path class="r" d="M343.5 440.5l7 -7l1 0l2 2l0 1l-1 1l0 1l5 0l0 4l-5 0l0 1l1 1l0 1l-2 2l-1 0z"/>
<path class="b" d="M366.5 455.5l-7 -7l0 -1l2 -2l1 0l1 1l1 0l0 -5l4 0l0 5l1 0l1 -1l1 0l2 2l0 1z"/>
<path class="b" d="M382.5 457.5l-7 7l0 1l2 2l1 0l1 -1l1 0l0 5l4 0l0 -5l1 0l1 1l1 0l2 -2l0 -1z"/>
<path class="r" d="M343.5 472.5l7 -7l1 0l2 2l0 1l-1 1l0 1l5 0l0 4l-5 0l0 1l1 1l0 1l-2 2l-1 0z"/>
<path class="b" d="M405.5 480.5l-7 -7l-1 0l-2 2l0 1l1 1l0 1l-5 0l0 4l5 0l0 1l-1 1l0 1l2 2l1 0z"/>
<path class="b" d="M366.5 503.5l-7 -7l0 -1l2 -2l1 0l1 1l1 0l0 -5l4 0l0 5l1 0l1 -1l1 0l2 2l0 1z"/>
<path class="b" d="M405.5 512.5l-7 -7l-1 0l-2 2l0 1l1 1l0 1l-5 0l0 4l5 0l0 1l-1 1l0 1l2 2l1 0z"/>
<path class="r" d="M382.5 513.5l-7 7l0 1l2 2l1 0l1 -1l1 0l0 5l4 0l0 -5l1 0l1 1l1 0l2 -2l0 -1z"/>
<path class="r" d="M343.5 536.5l7 -7l1 0l2 2l0 1l-1 1l0 1l5 0l0 4l-5 0l0 1l1 1l0 1l-2 2l-1 0z"/>
<path class="b" d="M405.5 544.5l-7 -7l-1 0l-2 2l0 1l1 1l0 1l-5 0l0 4l5 0l0 1l-1 1l0 1l2 2l1 0z"/>
<path class="r" d="M343.5 568.5l7 -7l1 0l2 2l0 1l-1 1l0 1l5 0l0 4l-5 0l0 1l1 1l0 1l-2 2l-1 0z"/>
<path class="b" d="M382.5 569.5l-7 7l0 1l2 2l1 0l1 -1l1 0l0 5l4 0l0 -5l1 0l1 1l1 0l2 -2l0 -1z"/>
<path class="r" d="M405.5 584.5l-7 -7l-1 0l-2 2l0 1l1 1l0 1l-5 0l0 4l5 0l0 1l-1 1l0 1l2 2l1 0z"/>
<path class="b" d="M382.5 585.5l-7 7l0 1l2 2l1 0l1 -1l1 0l0 5l4 0l0 -5l1 0l1 1l1 0l2 -2l0 -1z"/>
<path class="b" d="M366.5 615.5l-7 -7l0 -1l2 -2l1 0l1 1l1 0l0 -5l4 0l0 5l1 0l1 -1l1 0l2 2l0 1z"/>
<path class="b" d="M382.5 617.5l-7 7l0 1l2 2l1 0l1 -1l1 0l0 5l4 0l0 -5l1 0l1 1l1 0l2 -2l0 -1z"/>
<path class="b" d="M366.5 647.5l-7 -7l0 -1l2 -2l1 0l1 1l1 0l0 -5l4 0l0 5l1 0l1 -1l1 0l2 2l0 1z"/>
<path class="b" d="M405.5 656.5l-7 -7l-1 0l-2 2l0 1l1 1l0 1l-5 0l0 4l5 0l0 1l-1 1l0 1l2 2l1 0z"/>
<path class="b" d="M366.5 679.5l-7 -7l0 -1l2 -2l1 0l1 1l1 0l0 -5l4 0l0 5l1 0l1 -1l1 0l2 2l0 1z"/>
<path class="r" d="M405.5 680.5l-7 -7l-1 0l-2 2l0 1l1 1l0 1l-5 0l0 4l5 0l0 1l-1 1l0 1l2 2l1 0z"/>
<path class="b" d="M382.5 681.5l-7 7l0 1l2 2l1 0l1 -1l1 0l0 5l4 0l0 -5l1 0l1 1l1 0l2 -2l0 -1z"/>
<path class="r" d="M366.5 703.5l-7 -7l0 -1l2 -2l1 0l1 1l1 0l0 -5l4 0l0 5l1 0l1 -1l1 0l2 2l0 1z"/>
<path class="b" d="M405.5 704.5l-7 -7l-1 0l-2 2l0 1l1 1l0 1l-5 0l0 4l5 0l0 1l-1 1l0 1l2 2l1 0z"/>
<path class="b" d="M343.5 720.5l7 -7l1 0l2 2l0 1l-1 1l0 1l5 0l0 4l-5 0l0 1l1 1l0 1l-2 2l-1 0z"/>
<path class="b" d="M366.5 743.5l-7 -7l0 -1l2 -2l1 0l1 1l1 0l0 -5l4 0l0 5l1 0l1 -1l1 0l2 2l0 1z"/>
<path class="r" d="M405.5 744.5l-7 -7l-1 0l-2 2l0 1l1 1l0 1l-5 0l0 4l5 0l0 1l-1 1l0 1l2 2l1 0z"/>
<path class="b" d="M343.5 752.5l7 -7l1 0l2 2l0 1l-1 1l0 1l5 0l0 4l-5 0l0 1l1 1l0 1l-2 2l-1 0z"/>
<path class="b" d="M343.5 768.5l7 -7l1 0l2 2l0 1l-1 1l0 1l5 0l0 4l-5 0l0 1l1 1l0 1l-2 2l-1 0z"/>
<path class="r" d="M366.5 783.5l-7 -7l0 -1l2 -2l1 0l1 1l1 0l0 -5l4 0l0 5l1 0l1 -1l1 0l2 2l0 1z"/>
<path class="b" d="M343.5 784.5l7 -7l1 0l2 2l0 1l-1 1l0 1l5 0l0 4l-5 0l0 1l1 1l0 1l-2 2l-1 0z"/>
<path class="r" d="M405.5 792.5l-7 -7l-1 0l-2 2l0 1l1 1l0 1l-5 0l0 4l5 0l0 1l-1 1l0 1l2 2l1 0z"/>
<path class="r" d="M343.5 808.5l7 -7l1 0l2 2l0 1l-1 1l0 1l5 0l0 4l-5 0l0 1l1 1l0 1l-2 2l-1 0z"/>
<path class="r" d="M462.5 49.5l-7 7l0 1l2 2l1 0l1 -1l1 0l0 5l4 0l0 -5l1 0l1 1l1 0l2 -2l0 -1z"/>
<path class="b" d="M485.5 64.5l-7 -7l-1 0l-2 2l0 1l1 1l0 1l-5 0l0 4l5 0l0 1l-1 1l0 1l2 2l1 0z"/>
<path class="b" d="M423.5 80.5l7 -7l1 0l2 2l0 1l-1 1l0 1l5 0l0 4l-5 0l0 1l1 1l0 1l-2 2l-1 0z"/>
<path class="b" d="M485.5 96.5l-7 -7l-1 0l-2 2l0 1l1 1l0 1l-5 0l0 4l5 0l0 1l-1 1l0 1l2 2l1 0z"/>
<path class="b" d="M446.5 119.5l-7 -7l0 -1l2 -2l1 0l1 1l1 0l0 -5l4 0l0 5l1 0l1 -1l1 0l2 2l0 1z"/>
<path class="r" d="M423.5 120.5l7 -7l1 0l2 2l0 1l-1 1l0 1l5 0l0 4l-5 0l0 1l1 1l0 1l-2 2l-1 0z"/>
<path class="r" d="M485.5 136.5l-7 -7l-1 0l-2 2l0 1l1 1l0 1l-5 0l0 4l5 0l0 1l-1 1l0 1l2 2l1 0z"/>
<path class="r" d="M446.5 159.5l-7 -7l0 -1l2 -2l1 0l1 1l1 0l0 -5l4 0l0 5l1 0l1 -1l1 0l2 2l0 1z"/>
<path class="b" d="M462.5 153.5l-7 7l0 1l2 2l1 0l1 -1l1 0l0 5l4 0l0 -5l1 0l1 1l1 0l2 -2l0 -1z"/>
<path class="b" d="M462.5 169.5l-7 7l0 1l2 2l1 0l1 -1l1 0l0 5l4 0l0 -5l1 0l1 1l1 0l2 -2l0 -1z"/>
<path class="b" d="M446.5 199.5l-7 -7l0 -1l2 -2l1 0l1 1l1 0l0 -5l4 0l0 5l1 0l1 -1l1 0l2 2l0 1z"/>
<path class="b" d="M423.5 208.5l7 -7l1 0l2 2l0 1l-1 1l0 1l5 0l0 4l-5 0l0 1l1 1l0 1l-2 2l-1 0z"/>
<path class="b" d="M462.5 217.5l-7 7l0 1l2 2l1 0l1 -1l1 0l0 5l4 0l0 -5l1 0l1 1l1 0l2 -2l0 -1z"/>
<path class="r" d="M446.5 239.5l-7 -7l0 -1l2 -2l1 0l1 1l1 0l0 -5l4 0l0 5l1 0l1 -1l1 0l2 2l0 1z"/>
<path class="b" d="M462.5 233.5l-7 7l0 1l2 2l1 0l1 -1l1 0l0 5l4 0l0 -5l1 0l1 1l1 0l2 -2l0 -1z"/>
<path class="r" d="M446.5 255.5l-7 -7l0 -1l2 -2l1 0l1 1l1 0l0 -5l4 0l0 5l1 0l1 -1l1 0l2 2l0 1z"/>
<path class="p" d="M485.5 260.5l-7 -7l-1 0l-2 2l0 1l1 1l0 1l-5 0l0 4l5 0l0 1l-1 1l0 1l2 2l1 0z"/>
<path class="b" d="M423.5 272.5l7 -7l1 0l2 2l0 1l-1 1l0 1l5 0l0 4l-5 0l0 1l1 1l0 1l-2 2l-1 0z"/>
<path class="p" d="M485.5 284.5l-7 -7l-1 0l-2 2l0 1l1 1l0 1l-5 0l0 4l5 0l0 1l-1 1l0 1l2 2l1 0z"/>
<path class="r" d="M423.5 296.5l7 -7l1 0l2 2l0 1l-1 1l0 1l5 0l0 4l-5 0l0 1l1 1l0 1l-2 2l-1 0z"/>
<path class="b" d="M446.5 311.5l-7 -7l0 -1l2 -2l1 0l1 1l1 0l0 -5l4 0l0 5l1 0l1 -1l1 0l2 2l0 1z"/>
<path class="r" d="M462.5 305.5l-7 7l0 1l2 2l1 0l1 -1l1 0l0 5l4 0l0 -5l1 0l1 1l1 0l2 -2l0 -1z"/>
<path class="r" d="M462.5 321.5l-7 7l0 1l2 2l1 0l1 -1l1 0l0 5l4 0l0 -5l1 0l1 1l1 0l2 -2l0 -1z"/>
<path class="b" d="M446.5 343.5l-7 -7l0 -1l2 -2l1 0l1 1l1 0l0 -5l4 0l0 5l1 0l1 -1l1 0l2 2l0 1z"/>
<path class="r" d="M462.5 337.5l-7 7l0 1l2 2l1 0l1 -1l1 0l0 5l4 0l0 -5l1 0l1 1l1 0l2 -2l0 -1z"/>
<path class="r" d="M446.5 367.5l-7 -7l0 -1l2 -2l1 0l1 1l1 0l0 -5l4 0l0 5l1 0l1 -1l1 0l2 2l0 1z"/>
<path class="r" d="M462.5 369.5l-7 7l0 1l2 2l1 0l1 -1l1 0l0 5l4 0l0 -5l1 0l1 1l1 0l2 -2l0 -1z"/>
<path class="r" d="M446.5 399.5l-7 -7l0 -1l2 -2l1 0l1 1l1 0l0 -5l4 0l0 5l1 0l1 -1l1 0l2 2l0 1z"/>
<path class="r" d="M485.5 408.5l-7 -7l-1 0l-2 2l0 1l1 1l0 1l-5 0l0 4l5 0l0 1l-1 1l0 1l2 2l1 0z"/>
<path class="r" d="M423.5 424.5l7 -7l1 0l2 2l0 1l-1 1l0 1l5 0l0 4l-5 0l0 1l1 1l0 1l-2 2l-1 0z"/>
<path class="b" d="M446.5 439.5l-7 -7l0 -1l2 -2l1 0l1 1l1 0l0 -5l4 0l0 5l1 0l1 -1l1 0l2 2l0 1z"/>
<path class="r" d="M485.5 440.5l-7 -7l-1 0l-2 2l0 1l1 1l0 1l-5 0l0 4l5 0l0 1l-1 1l0 1l2 2l1 0z"/>
<path class="b" d="M423.5 448.5l7 -7l1 0l2 2l0 1l-1 1l0 1l5 0l0 4l-5 0l0 1l1 1l0 1l-2 2l-1 0z"/>
<path class="r" d="M446.5 463.5l-7 -7l0 -1l2 -2l1 0l1 1l1 0l0 -5l4 0l0 5l1 0l1 -1l1 0l2 2l0 1z"/>
<path class="b" d="M462.5 457.5l-7 7l0 1l2 2l1 0l1 -1l1 0l0 5l4 0l0 -5l1 0l1 1l1 0l2 -2l0 -1z"/>
<path class="r" d="M446.5 479.5l-7 -7l0 -1l2 -2l1 0l1 1l1 0l0 -5l4 0l0 5l1 0l1 -1l1 0l2 2l0 1z"/>
<path class="r" d="M462.5 481.5l-7 7l0 1l2 2l1 0l1 -1l1 0l0 5l4 0l0 -5l1 0l1 1l1 0l2 -2l0 -1z"/>
<path class="r" d="M446.5 511.5l-7 -7l0 -1l2 -2l1 0l1 1l1 0l0 -5l4 0l0 5l1 0l1 -1l1 0l2 2l0 1z"/>
<path class="r" d="M423.5 520.5l7 -7l1 0l2 2l0 1l-1 1l0 1l5 0l0 4l-5 0l0 1l1 1l0 1l-2 2l-1 0z"/>
<path class="r" d="M485.5 536.5l-7 -7l-1 0l-2 2l0 1l1 1l0 1l-5 0l0 4l5 0l0 1l-1 1l0 1l2 2l1 0z"/>
<path class="r" d="M462.5 545.5l-7 7l0 1l2 2l1 0l1 -1l1 0l0 5l4 0l0 -5l1 0l1 1l1 0l2 -2l0 -1z"/>
<path class="r" d="M446.5 575.5l-7 -7l0 -1l2 -2l1 0l1 1l1 0l0 -5l4 0l0 5l1 0l1 -1l1 0l2 2l0 1z"/>
<path class="b" d="M462.5 569.5l-7 7l0 1l2 2l1 0l1 -1l1 0l0 5l4 0l0 -5l1 0l1 1l1 0l2 -2l0 -1z"/>
<path class="r" d="M485.5 584.5l-7 -7l-1 0l-2 2l0 1l1 1l0 1l-5 0l0 4l5 0l0 1l-1 1l0 1l2 2l1 0z"/>
<path class="b" d="M446.5 599.5l-7 -7l0 -1l2 -2l1 0l1 1l1 0l0 -5l4 0l0 5l1 0l1 -1l1 0l2 2l0 1z"/>
<path class="r" d="M462.5 593.5l-7 7l0 1l2 2l1 0l1 -1l1 0l0 5l4 0l0 -5l1 0l1 1l1 0l2 -2l0 -1z"/>
<path class="r" d="M423.5 616.5l7 -7l1 0l2 2l0 1l-1 1l0 1l5 0l0 4l-5 0l0 1l1 1l0 1l-2 2l-1 0z"/>
<path class="r" d="M485.5 632.5l-7 -7l-1 0l-2 2l0 1l1 1l0 1l-5 0l0 4l5 0l0 1l-1 1l0 1l2 2l1 0z"/>
<path class="r" d="M423.5 648.5l7 -7l1 0l2 2l0 1l-1 1l0 1l5 0l0 4l-5 0l0 1l1 1l0 1l-2 2l-1 0z"/>
<path class="r" d="M446.5 671.5l-7 -7l0 -1l2 -2l1 0l1 1l1 0l0 -5l4 0l0 5l1 0l1 -1l1 0l2 2l0 1z"/>
<path class="r" d="M462.5 673.5l-7 7l0 1l2 2l1 0l1 -1l1 0l0 5l4 0l0 -5l1 0l1 1l1 0l2 -2l0 -1z"/>
<path class="b" d="M485.5 688.5l-7 -7l-1 0l-2 2l0 1l1 1l0 1l-5 0l0 4l5 0l0 1l-1 1l0 1l2 2l1 0z"/>
<path class="b" d="M462.5 697.5l-7 7l0 1l2 2l1 0l1 -1l1 0l0 5l4 0l0 -5l1 0l1 1l1 0l2 -2l0 -1z"/>
<path class="b" d="M423.5 720.5l7 -7l1 0l2 2l0 1l-1 1l0 1l5 0l0 4l-5 0l0 1l1 1l0 1l-2 2l-1 0z"/>
<path class="r" d="M446.5 751.5l-7 -7l0 -1l2 -2l1 0l1 1l1 0l0 -5l4 0l0 5l1 0l1 -1l1 0l2 2l0 1z"/>
<path class="b" d="M423.5 752.5l7 -7l1 0l2 2l0 1l-1 1l0 1l5 0l0 4l-5 0l0 1l1 1l0 1l-2 2l-1 0z"/>
<path class="b" d="M446.5 775.5l-7 -7l0 -1l2 -2l1 0l1 1l1 0l0 -5l4 0l0 5l1 0l1 -1l1 0l2 2l0 1z"/>
<path class="b" d="M462.5 777.5l-7 7l0 1l2 2l1 0l1 -1l1 0l0 5l4 0l0 -5l1 0l1 1l1 0l2 -2l0 -1z"/>
<path class="r" d="M462.5 801.5l-7 7l0 1l2 2l1 0l1 -1l1 0l0 5l4 0l0 -5l1 0l1 1l1 0l2 -2l0 -1z"/>
<path class="r" d="M565.5 56.5l-7 -7l-1 0l-2 2l0 1l1 1l0 1l-5 0l0 4l5 0l0 1l-1 1l0 1l2 2l1 0z"/>
<path class="b" d="M503.5 64.5l7 -7l1 0l2 2l0 1l-1 1l0 1l5 0l0 4l-5 0l0 1l1 1l0 1l-2 2l-1 0z"/>
<path class="r" d="M565.5 72.5l-7 -7l-1 0l-2 2l0 1l1 1l0 1l-5 0l0 4l5 0l0 1l-1 1l0 1l2 2l1 0z"/>
<path class="b" d="M503.5 80.5l7 -7l1 0l2 2l0 1l-1 1l0 1l5 0l0 4l-5 0l0 1l1 1l0 1l-2 2l-1 0z"/>
<path class="r" d="M565.5 88.5l-7 -7l-1 0l-2 2l0 1l1 1l0 1l-5 0l0 4l5 0l0 1l-1 1l0 1l2 2l1 0z"/>
<path class="b" d="M526.5 103.5l-7 -7l0 -1l2 -2l1 0l1 1l1 0l0 -5l4 0l0 5l1 0l1 -1l1 0l2 2l0 1z"/>
<path class="r" d="M542.5 97.5l-7 7l0 1l2 2l1 0l1 -1l1 0l0 5l4 0l0 -5l1 0l1 1l1 0l2 -2l0 -1z"/>
<path class="b" d="M526.5 119.5l-7 -7l0 -1l2 -2l1 0l1 1l1 0l0 -5l4 0l0 5l1 0l1 -1l1 0l2 2l0 1z"/>
<path class="r" d="M542.5 113.5l-7 7l0 1l2 2l1 0l1 -1l1 0l0 5l4 0l0 -5l1 0l1 1l1 0l2 -2l0 -1z"/>
<path class="b" d="M526.5 135.5l-7 -7l0 -1l2 -2l1 0l1 1l1 0l0 -5l4 0l0 5l1 0l1 -1l1 0l2 2l0 1z"/>
<path class="r" d="M565.5 136.5l-7 -7l-1 0l-2 2l0 1l1 1l0 1l-5 0l0 4l5 0l0 1l-1 1l0 1l2 2l1 0z"/>
<path class="b" d="M542.5 137.5l-7 7l0 1l2 2l1 0l1 -1l1 0l0 5l4 0l0 -5l1 0l1 1l1 0l2 -2l0 -1z"/>
<path class="r" d="M565.5 152.5l-7 -7l-1 0l-2 2l0 1l1 1l0 1l-5 0l0 4l5 0l0 1l-1 1l0 1l2 2l1 0z"/>
<path class="b" d="M542.5 153.5l-7 7l0 1l2 2l1 0l1 -1l1 0l0 5l4 0l0 -5l1 0l1 1l1 0l2 -2l0 -1z"/>
<path class="r" d="M565.5 168.5l-7 -7l-1 0l-2 2l0 1l1 1l0 1l-5 0l0 4l5 0l0 1l-1 1l0 1l2 2l1 0z"/>
<path class="b" d="M526.5 183.5l-7 -7l0 -1l2 -2l1 0l1 1l1 0l0 -5l4 0l0 5l1 0l1 -1l1 0l2 2l0 1z"/>
<path class="r" d="M542.5 177.5l-7 7l0 1l2 2l1 0l1 -1l1 0l0 5l4 0l0 -5l1 0l1 1l1 0l2 -2l0 -1z"/>
<path class="b" d="M526.5 199.5l-7 -7l0 -1l2 -2l1 0l1 1l1 0l0 -5l4 0l0 5l1 0l1 -1l1 0l2 2l0 1z"/>
<path class="r" d="M542.5 193.5l-7 7l0 1l2 2l1 0l1 -1l1 0l0 5l4 0l0 -5l1 0l1 1l1 0l2 -2l0 -1z"/>
<path class="b" d="M526.5 215.5l-7 -7l0 -1l2 -2l1 0l1 1l1 0l0 -5l4 0l0 5l1 0l1 -1l1 0l2 2l0 1z"/>
<path class="r" d="M565.5 216.5l-7 -7l-1 0l-2 2l0 1l1 1l0 1l-5 0l0 4l5 0l0 1l-1 1l0 1l2 2l1 0z"/>
<path class="b" d="M542.5 217.5l-7 7l0 1l2 2l1 0l1 -1l1 0l0 5l4 0l0 -5l1 0l1 1l1 0l2 -2l0 -1z"/>
<path class="r" d="M565.5 232.5l-7 -7l-1 0l-2 2l0 1l1 1l0 1l-5 0l0 4l5 0l0 1l-1 1l0 1l2 2l1 0z"/>
<path class="b" d="M542.5 233.5l-7 7l0 1l2 2l1 0l1 -1l1 0l0 5l4 0l0 -5l1 0l1 1l1 0l2 -2l0 -1z"/>
<path class="r" d="M565.5 248.5l-7 -7l-1 0l-2 2l0 1l1 1l0 1l-5 0l0 4l5 0l0 1l-1 1l0 1l2 2l1 0z"/>
<path class="b" d="M503.5 256.5l7 -7l1 0l2 2l0 1l-1 1l0 1l5 0l0 4l-5 0l0 1l1 1l0 1l-2 2l-1 0z"/>
<path class="r" d="M526.5 271.5l-7 -7l0 -1l2 -2l1 0l1 1l1 0l0 -5l4 0l0 5l1 0l1 -1l1 0l2 2l0 1z"/>
<path class="b" d="M503.5 272.5l7 -7l1 0l2 2l0 1l-1 1l0 1l5 0l0 4l-5 0l0 1l1 1l0 1l-2 2l-1 0z"/>
<path class="r" d="M526.5 287.5l-7 -7l0 -1l2 -2l1 0l1 1l1 0l0 -5l4 0l0 5l1 0l1 -1l1 0l2 2l0 1z"/>
<path class="b" d="M503.5 288.5l7 -7l1 0l2 2l0 1l-1 1l0 1l5 0l0 4l-5 0l0 1l1 1l0 1l-2 2l-1 0z"/>
<path class="r" d="M565.5 296.5l-7 -7l-1 0l-2 2l0 1l1 1l0 1l-5 0l0 4l5 0l0 1l-1 1l0 1l2 2l1 0z"/>
<path class="b" d="M526.5 311.5l-7 -7l0 -1l2 -2l1 0l1 1l1 0l0 -5l4 0l0 5l1 0l1 -1l1 0l2 2l0 1z"/>
<path class="r" d="M565.5 312.5l-7 -7l-1 0l-2 2l0 1l1 1l0 1l-5 0l0 4l5 0l0 1l-1 1l0 1l2 2l1 0z"/>
<path class="b" d="M526.5 327.5l-7 -7l0 -1l2 -2l1 0l1 1l1 0l0 -5l4 0l0 5l1 0l1 -1l1 0l2 2l0 1z"/>
<path class="r" d="M542.5 321.5l-7 7l0 1l2 2l1 0l1 -1l1 0l0 5l4 0l0 -5l1 0l1 1l1 0l2 -2l0 -1z"/>
<path class="b" d="M526.5 343.5l-7 -7l0 -1l2 -2l1 0l1 1l1 0l0 -5l4 0l0 5l1 0l1 -1l1 0l2 2l0 1z"/>
<path class="r" d="M542.5 337.5l-7 7l0 1l2 2l1 0l1 -1l1 0l0 5l4 0l0 -5l1 0l1 1l1 0l2 -2l0 -1z"/>
<path class="b" d="M503.5 352.5l7 -7l1 0l2 2l0 1l-1 1l0 1l5 0l0 4l-5 0l0 1l1 1l0 1l-2 2l-1 0z"/>
<path class="r" d="M542.5 353.5l-7 7l0 1l2 2l1 0l1 -1l1 0l0 5l4 0l0 -5l1 0l1 1l1 0l2 -2l0 -1z"/>
<path class="b" d="M526.5 375.5l-7 -7l0 -1l2 -2l1 0l1 1l1 0l0 -5l4 0l0 5l1 0l1 -1l1 0l2 2l0 1z"/>
<path class="r" d="M565.5 376.5l-7 -7l-1 0l-2 2l0 1l1 1l0 1l-5 0l0 4l5 0l0 1l-1 1l0 1l2 2l1 0z"/>
<path class="b" d="M526.5 391.5l-7 -7l0 -1l2 -2l1 0l1 1l1 0l0 -5l4 0l0 5l1 0l1 -1l1 0l2 2l0 1z"/>
<path class="r" d="M565.5 392.5l-7 -7l-1 0l-2 2l0 1l1 1l0 1l-5 0l0 4l5 0l0 1l-1 1l0 1l2 2l1 0z"/>
<path class="b" d="M503.5 400.5l7 -7l1 0l2 2l0 1l-1 1l0 1l5 0l0 4l-5 0l0 1l1 1l0 1l-2 2l-1 0z"/>
<path class="r" d="M565.5 408.5l-7 -7l-1 0l-2 2l0 1l1 1l0 1l-5 0l0 4l5 0l0 1l-1 1l0 1l2 2l1 0z"/>
<path class="b" d="M503.5 416.5l7 -7l1 0l2 2l0 1l-1 1l0 1l5 0l0 4l-5 0l0 1l1 1l0 1l-2 2l-1 0z"/>
<path class="r" d="M526.5 431.5l-7 -7l0 -1l2 -2l1 0l1 1l1 0l0 -5l4 0l0 5l1 0l1 -1l1 0l2 2l0 1z"/>
<path class="b" d="M503.5 432.5l7 -7l1 0l2 2l0 1l-1 1l0 1l5 0l0 4l-5 0l0 1l1 1l0 1l-2 2l-1 0z"/>
<path class="r" d="M542.5 433.5l-7 7l0 1l2 2l1 0l1 -1l1 0l0 5l4 0l0 -5l1 0l1 1l1 0l2 -2l0 -1z"/>
<path class="b" d="M526.5 455.5l-7 -7l0 -1l2 -2l1 0l1 1l1 0l0 -5l4 0l0 5l1 0l1 -1l1 0l2 2l0 1z"/>
<path class="r" d="M542.5 449.5l-7 7l0 1l2 2l1 0l1 -1l1 0l0 5l4 0l0 -5l1 0l1 1l1 0l2 -2l0 -1z"/>
<path class="b" d="M526.5 471.5l-7 -7l0 -1l2 -2l1 0l1 1l1 0l0 -5l4 0l0 5l1 0l1 -1l1 0l2 2l0 1z"/>
<path class="r" d="M542.5 465.5l-7 7l0 1l2 2l1 0l1 -1l1 0l0 5l4 0l0 -5l1 0l1 1l1 0l2 -2l0 -1z"/>
<path class="b" d="M503.5 480.5l7 -7l1 0l2 2l0 1l-1 1l0 1l5 0l0 4l-5 0l0 1l1 1l0 1l-2 2l-1 0z"/>
<path class="r" d="M565.5 488.5l-7 -7l-1 0l-2 2l0 1l1 1l0 1l-5 0l0 4l5 0l0 1l-1 1l0 1l2 2l1 0z"/>
<path class="b" d="M503.5 496.5l7 -7l1 0l2 2l0 1l-1 1l0 1l5 0l0 4l-5 0l0 1l1 1l0 1l-2 2l-1 0z"/>
<path class="r" d="M565.5 504.5l-7 -7l-1 0l-2 2l0 1l1 1l0 1l-5 0l0 4l5 0l0 1l-1 1l0 1l2 2l1 0z"/>
<path class="b" d="M503.5 512.5l7 -7l1 0l2 2l0 1l-1 1l0 1l5 0l0 4l-5 0l0 1l1 1l0 1l-2 2l-1 0z"/>
<path class="r" d="M526.5 527.5l-7 -7l0 -1l2 -2l1 0l1 1l1 0l0 -5l4 0l0 5l1 0l1 -1l1 0l2 2l0 1z"/>
<path class="b" d="M542.5 521.5l-7 7l0 1l2 2l1 0l1 -1l1 0l0 5l4 0l0 -5l1 0l1 1l1 0l2 -2l0 -1z"/>
<path class="r" d="M526.5 543.5l-7 -7l0 -1l2 -2l1 0l1 1l1 0l0 -5l4 0l0 5l1 0l1 -1l1 0l2 2l0 1z"/>
<path class="b" d="M542.5 537.5l-7 7l0 1l2 2l1 0l1 -1l1 0l0 5l4 0l0 -5l1 0l1 1l1 0l2 -2l0 -1z"/>
<path class="r" d="M526.5 559.5l-7 -7l0 -1l2 -2l1 0l1 1l1 0l0 -5l4 0l0 5l1 0l1 -1l1 0l2 2l0 1z"/>
<path class="r" d="M565.5 568.5l-7 -7l-1 0l-2 2l0 1l1 1l0 1l-5 0l0 4l5 0l0 1l-1 1l0 1l2 2l1 0z"/>
<path class="b" d="M503.5 576.5l7 -7l1 0l2 2l0 1l-1 1l0 1l5 0l0 4l-5 0l0 1l1 1l0 1l-2 2l-1 0z"/>
<path class="r" d="M565.5 584.5l-7 -7l-1 0l-2 2l0 1l1 1l0 1l-5 0l0 4l5 0l0 1l-1 1l0 1l2 2l1 0z"/>
<path class="b" d="M503.5 592.5l7 -7l1 0l2 2l0 1l-1 1l0 1l5 0l0 4l-5 0l0 1l1 1l0 1l-2 2l-1 0z"/>
<path class="r" d="M542.5 593.5l-7 7l0 1l2 2l1 0l1 -1l1 0l0 5l4 0l0 -5l1 0l1 1l1 0l2 -2l0 -1z"/>
<path class="b" d="M526.5 615.5l-7 -7l0 -1l2 -2l1 0l1 1l1 0l0 -5l4 0l0 5l1 0l1 -1l1 0l2 2l0 1z"/>
<path class="r" d="M542.5 609.5l-7 7l0 1l2 2l1 0l1 -1l1 0l0 5l4 0l0 -5l1 0l1 1l1 0l2 -2l0 -1z"/>
<path class="b" d="M526.5 631.5l-7 -7l0 -1l2 -2l1 0l1 1l1 0l0 -5l4 0l0 5l1 0l1 -1l1 0l2 2l0 1z"/>
<path class="r" d="M542.5 625.5l-7 7l0 1l2 2l1 0l1 -1l1 0l0 5l4 0l0 -5l1 0l1 1l1 0l2 -2l0 -1z"/>
<path class="b" d="M503.5 640.5l7 -7l1 0l2 2l0 1l-1 1l0 1l5 0l0 4l-5 0l0 1l1 1l0 1l-2 2l-1 0z"/>
<path class="r" d="M565.5 648.5l-7 -7l-1 0l-2 2l0 1l1 1l0 1l-5 0l0 4l5 0l0 1l-1 1l0 1l2 2l1 0z"/>
<path class="b" d="M503.5 656.5l7 -7l1 0l2 2l0 1l-1 1l0 1l5 0l0 4l-5 0l0 1l1 1l0 1l-2 2l-1 0z"/>
<path class="r" d="M565.5 664.5l-7 -7l-1 0l-2 2l0 1l1 1l0 1l-5 0l0 4l5 0l0 1l-1 1l0 1l2 2l1 0z"/>
<path class="b" d="M503.5 672.5l7 -7l1 0l2 2l0 1l-1 1l0 1l5 0l0 4l-5 0l0 1l1 1l0 1l-2 2l-1 0z"/>
<path class="r" d="M526.5 687.5l-7 -7l0 -1l2 -2l1 0l1 1l1 0l0 -5l4 0l0 5l1 0l1 -1l1 0l2 2l0 1z"/>
<path class="b" d="M542.5 681.5l-7 7l0 1l2 2l1 0l1 -1l1 0l0 5l4 0l0 -5l1 0l1 1l1 0l2 -2l0 -1z"/>
<path class="r" d="M526.5 703.5l-7 -7l0 -1l2 -2l1 0l1 1l1 0l0 -5l4 0l0 5l1 0l1 -1l1 0l2 2l0 1z"/>
<path class="b" d="M542.5 697.5l-7 7l0 1l2 2l1 0l1 -1l1 0l0 5l4 0l0 -5l1 0l1 1l1 0l2 -2l0 -1z"/>
<path class="r" d="M526.5 719.5l-7 -7l0 -1l2 -2l1 0l1 1l1 0l0 -5l4 0l0 5l1 0l1 -1l1 0l2 2l0 1z"/>
<path class="b" d="M503.5 720.5l7 -7l1 0l2 2l0 1l-1 1l0 1l5 0l0 4l-5 0l0 1l1 1l0 1l-2 2l-1 0z"/>
<path class="r" d="M565.5 728.5l-7 -7l-1 0l-2 2l0 1l1 1l0 1l-5 0l0 4l5 0l0 1l-1 1l0 1l2 2l1 0z"/>
<path class="b" d="M503.5 736.5l7 -7l1 0l2 2l0 1l-1 1l0 1l5 0l0 4l-5 0l0 1l1 1l0 1l-2 2l-1 0z"/>
<path class="r" d="M542.5 737.5l-7 7l0 1l2 2l1 0l1 -1l1 0l0 5l4 0l0 -5l1 0l1 1l1 0l2 -2l0 -1z"/>
<path class="b" d="M503.5 752.5l7 -7l1 0l2 2l0 1l-1 1l0 1l5 0l0 4l-5 0l0 1l1 1l0 1l-2 2l-1 0z"/>
<path class="r" d="M565.5 760.5l-7 -7l-1 0l-2 2l0 1l1 1l0 1l-5 0l0 4l5 0l0 1l-1 1l0 1l2 2l1 0z"/>
<path class="b" d="M526.5 775.5l-7 -7l0 -1l2 -2l1 0l1 1l1 0l0 -5l4 0l0 5l1 0l1 -1l1 0l2 2l0 1z"/>
<path class="r" d="M565.5 776.5l-7 -7l-1 0l-2 2l0 1l1 1l0 1l-5 0l0 4l5 0l0 1l-1 1l0 1l2 2l1 0z"/>
<path class="b" d="M526.5 791.5l-7 -7l0 -1l2 -2l1 0l1 1l1 0l0 -5l4 0l0 5l1 0l1 -1l1 0l2 2l0 1z"/>
<path class="r" d="M565.5 792.5l-7 -7l-1 0l-2 2l0 1l1 1l0 1l-5 0l0 4l5 0l0 1l-1 1l0 1l2 2l1 0z"/>
<path class="b" d="M542.5 793.5l-7 7l0 1l2 2l1 0l1 -1l1 0l0 5l4 0l0 -5l1 0l1 1l1 0l2 -2l0 -1z"/>
<path class="r" d="M526.5 815.5l-7 -7l0 -1l2 -2l1 0l1 1l1 0l0 -5l4 0l0 5l1 0l1 -1l1 0l2 2l0 1z"/>
<path class="b" d="M542.5 809.5l-7 7l0 1l2 2l1 0l1 -1l1 0l0 5l4 0l0 -5l1 0l1 1l1 0l2 -2l0 -1z"/>
<path class="b" d="M622.5 57.5l-7 7l0 1l2 2l1 0l1 -1l1 0l0 5l4 0l0 -5l1 0l1 1l1 0l2 -2l0 -1z"/>
<path class="r" d="M645.5 72.5l-7 -7l-1 0l-2 2l0 1l1 1l0 1l-5 0l0 4l5 0l0 1l-1 1l0 1l2 2l1 0z"/>
<path class="b" d="M583.5 80.5l7 -7l1 0l2 2l0 1l-1 1l0 1l5 0l0 4l-5 0l0 1l1 1l0 1l-2 2l-1 0z"/>
<path class="r" d="M606.5 95.5l-7 -7l0 -1l2 -2l1 0l1 1l1 0l0 -5l4 0l0 5l1 0l1 -1l1 0l2 2l0 1z"/>
<path class="b" d="M622.5 89.5l-7 7l0 1l2 2l1 0l1 -1l1 0l0 5l4 0l0 -5l1 0l1 1l1 0l2 -2l0 -1z"/>
<path class="r" d="M606.5 111.5l-7 -7l0 -1l2 -2l1 0l1 1l1 0l0 -5l4 0l0 5l1 0l1 -1l1 0l2 2l0 1z"/>
<path class="b" d="M622.5 105.5l-7 7l0 1l2 2l1 0l1 -1l1 0l0 5l4 0l0 -5l1 0l1 1l1 0l2 -2l0 -1z"/>
<path class="r" d="M606.5 127.5l-7 -7l0 -1l2 -2l1 0l1 1l1 0l0 -5l4 0l0 5l1 0l1 -1l1 0l2 2l0 1z"/>
<path class="b" d="M583.5 128.5l7 -7l1 0l2 2l0 1l-1 1l0 1l5 0l0 4l-5 0l0 1l1 1l0 1l-2 2l-1 0z"/>
<path class="r" d="M645.5 136.5l-7 -7l-1 0l-2 2l0 1l1 1l0 1l-5 0l0 4l5 0l0 1l-1 1l0 1l2 2l1 0z"/>
<path class="b" d="M583.5 144.5l7 -7l1 0l2 2l0 1l-1 1l0 1l5 0l0 4l-5 0l0 1l1 1l0 1l-2 2l-1 0z"/>
<path class="r" d="M645.5 152.5l-7 -7l-1 0l-2 2l0 1l1 1l0 1l-5 0l0 4l5 0l0 1l-1 1l0 1l2 2l1 0z"/>
<path class="b" d="M583.5 160.5l7 -7l1 0l2 2l0 1l-1 1l0 1l5 0l0 4l-5 0l0 1l1 1l0 1l-2 2l-1 0z"/>
<path class="r" d="M622.5 161.5l-7 7l0 1l2 2l1 0l1 -1l1 0l0 5l4 0l0 -5l1 0l1 1l1 0l2 -2l0 -1z"/>
<path class="b" d="M606.5 183.5l-7 -7l0 -1l2 -2l1 0l1 1l1 0l0 -5l4 0l0 5l1 0l1 -1l1 0l2 2l0 1z"/>
<path class="r" d="M622.5 177.5l-7 7l0 1l2 2l1 0l1 -1l1 0l0 5l4 0l0 -5l1 0l1 1l1 0l2 -2l0 -1z"/>
<path class="b" d="M606.5 199.5l-7 -7l0 -1l2 -2l1 0l1 1l1 0l0 -5l4 0l0 5l1 0l1 -1l1 0l2 2l0 1z"/>
<path class="r" d="M622.5 193.5l-7 7l0 1l2 2l1 0l1 -1l1 0l0 5l4 0l0 -5l1 0l1 1l1 0l2 -2l0 -1z"/>
<path class="p" d="M606.5 219.5l-7 -7l0 -1l2 -2l1 0l1 1l1 0l0 -5l4 0l0 5l1 0l1 -1l1 0l2 2l0 1z"/>
<path class="b" d="M583.5 224.5l7 -7l1 0l2 2l0 1l-1 1l0 1l5 0l0 4l-5 0l0 1l1 1l0 1l-2 2l-1 0z"/>
<path class="r" d="M606.5 239.5l-7 -7l0 -1l2 -2l1 0l1 1l1 0l0 -5l4 0l0 5l1 0l1 -1l1 0l2 2l0 1z"/>
<path class="p" d="M645.5 244.5l-7 -7l-1 0l-2 2l0 1l1 1l0 1l-5 0l0 4l5 0l0 1l-1 1l0 1l2 2l1 0z"/>
<path class="b" d="M606.5 263.5l-7 -7l0 -1l2 -2l1 0l1 1l1 0l0 -5l4 0l0 5l1 0l1 -1l1 0l2 2l0 1z"/>
<path class="r" d="M645.5 264.5l-7 -7l-1 0l-2 2l0 1l1 1l0 1l-5 0l0 4l5 0l0 1l-1 1l0 1l2 2l1 0z"/>
<path class="p" d="M606.5 283.5l-7 -7l0 -1l2 -2l1 0l1 1l1 0l0 -5l4 0l0 5l1 0l1 -1l1 0l2 2l0 1z"/>
<path class="b" d="M583.5 288.5l7 -7l1 0l2 2l0 1l-1 1l0 1l5 0l0 4l-5 0l0 1l1 1l0 1l-2 2l-1 0z"/>
<path class="r" d="M622.5 289.5l-7 7l0 1l2 2l1 0l1 -1l1 0l0 5l4 0l0 -5l1 0l1 1l1 0l2 -2l0 -1z"/>
<path class="p" d="M583.5 308.5l7 -7l1 0l2 2l0 1l-1 1l0 1l5 0l0 4l-5 0l0 1l1 1l0 1l-2 2l-1 0z"/>
<path class="b" d="M622.5 313.5l-7 7l0 1l2 2l1 0l1 -1l1 0l0 5l4 0l0 -5l1 0l1 1l1 0l2 -2l0 -1z"/>
<path class="r" d="M645.5 328.5l-7 -7l-1 0l-2 2l0 1l1 1l0 1l-5 0l0 4l5 0l0 1l-1 1l0 1l2 2l1 0z"/>
<path class="r" d="M606.5 351.5l-7 -7l0 -1l2 -2l1 0l1 1l1 0l0 -5l4 0l0 5l1 0l1 -1l1 0l2 2l0 1z"/>
<path class="r" d="M622.5 353.5l-7 7l0 1l2 2l1 0l1 -1l1 0l0 5l4 0l0 -5l1 0l1 1l1 0l2 -2l0 -1z"/>
<path class="r" d="M622.5 369.5l-7 7l0 1l2 2l1 0l1 -1l1 0l0 5l4 0l0 -5l1 0l1 1l1 0l2 -2l0 -1z"/>
<path class="r" d="M645.5 392.5l-7 -7l-1 0l-2 2l0 1l1 1l0 1l-5 0l0 4l5 0l0 1l-1 1l0 1l2 2l1 0z"/>
<path class="r" d="M645.5 408.5l-7 -7l-1 0l-2 2l0 1l1 1l0 1l-5 0l0 4l5 0l0 1l-1 1l0 1l2 2l1 0z"/>
<path class="r" d="M622.5 417.5l-7 7l0 1l2 2l1 0l1 -1l1 0l0 5l4 0l0 -5l1 0l1 1l1 0l2 -2l0 -1z"/>
<path class="b" d="M583.5 432.5l7 -7l1 0l2 2l0 1l-1 1l0 1l5 0l0 4l-5 0l0 1l1 1l0 1l-2 2l-1 0z"/>
<path class="r" d="M622.5 433.5l-7 7l0 1l2 2l1 0l1 -1l1 0l0 5l4 0l0 -5l1 0l1 1l1 0l2 -2l0 -1z"/>
<path class="b" d="M606.5 455.5l-7 -7l0 -1l2 -2l1 0l1 1l1 0l0 -5l4 0l0 5l1 0l1 -1l1 0l2 2l0 1z"/>
<path class="b" d="M622.5 457.5l-7 7l0 1l2 2l1 0l1 -1l1 0l0 5l4 0l0 -5l1 0l1 1l1 0l2 -2l0 -1z"/>
<path class="b" d="M583.5 480.5l7 -7l1 0l2 2l0 1l-1 1l0 1l5 0l0 4l-5 0l0 1l1 1l0 1l-2 2l-1 0z"/>
<path class="r" d="M622.5 481.5l-7 7l0 1l2 2l1 0l1 -1l1 0l0 5l4 0l0 -5l1 0l1 1l1 0l2 -2l0 -1z"/>
<path class="r" d="M606.5 511.5l-7 -7l0 -1l2 -2l1 0l1 1l1 0l0 -5l4 0l0 5l1 0l1 -1l1 0l2 2l0 1z"/>
<path class="b" d="M622.5 505.5l-7 7l0 1l2 2l1 0l1 -1l1 0l0 5l4 0l0 -5l1 0l1 1l1 0l2 -2l0 -1z"/>
<path class="r" d="M606.5 527.5l-7 -7l0 -1l2 -2l1 0l1 1l1 0l0 -5l4 0l0 5l1 0l1 -1l1 0l2 2l0 1z"/>
<path class="r" d="M622.5 529.5l-7 7l0 1l2 2l1 0l1 -1l1 0l0 5l4 0l0 -5l1 0l1 1l1 0l2 -2l0 -1z"/>
<path class="b" d="M606.5 551.5l-7 -7l0 -1l2 -2l1 0l1 1l1 0l0 -5l4 0l0 5l1 0l1 -1l1 0l2 2l0 1z"/>
<path class="b" d="M645.5 560.5l-7 -7l-1 0l-2 2l0 1l1 1l0 1l-5 0l0 4l5 0l0 1l-1 1l0 1l2 2l1 0z"/>
<path class="b" d="M622.5 569.5l-7 7l0 1l2 2l1 0l1 -1l1 0l0 5l4 0l0 -5l1 0l1 1l1 0l2 -2l0 -1z"/>
<path class="r" d="M645.5 584.5l-7 -7l-1 0l-2 2l0 1l1 1l0 1l-5 0l0 4l5 0l0 1l-1 1l0 1l2 2l1 0z"/>
<path class="b" d="M606.5 599.5l-7 -7l0 -1l2 -2l1 0l1 1l1 0l0 -5l4 0l0 5l1 0l1 -1l1 0l2 2l0 1z"/>
<path class="r" d="M622.5 593.5l-7 7l0 1l2 2l1 0l1 -1l1 0l0 5l4 0l0 -5l1 0l1 1l1 0l2 -2l0 -1z"/>
<path class="r" d="M622.5 609.5l-7 7l0 1l2 2l1 0l1 -1l1 0l0 5l4 0l0 -5l1 0l1 1l1 0l2 -2l0 -1z"/>
<path class="b" d="M583.5 624.5l7 -7l1 0l2 2l0 1l-1 1l0 1l5 0l0 4l-5 0l0 1l1 1l0 1l-2 2l-1 0z"/>
<path class="b" d="M645.5 640.5l-7 -7l-1 0l-2 2l0 1l1 1l0 1l-5 0l0 4l5 0l0 1l-1 1l0 1l2 2l1 0z"/>
<path class="b" d="M583.5 656.5l7 -7l1 0l2 2l0 1l-1 1l0 1l5 0l0 4l-5 0l0 1l1 1l0 1l-2 2l-1 0z"/>
<path class="b" d="M606.5 679.5l-7 -7l0 -1l2 -2l1 0l1 1l1 0l0 -5l4 0l0 5l1 0l1 -1l1 0l2 2l0 1z"/>
<path class="r" d="M645.5 680.5l-7 -7l-1 0l-2 2l0 1l1 1l0 1l-5 0l0 4l5 0l0 1l-1 1l0 1l2 2l1 0z"/>
<path class="b" d="M606.5 695.5l-7 -7l0 -1l2 -2l1 0l1 1l1 0l0 -5l4 0l0 5l1 0l1 -1l1 0l2 2l0 1z"/>
<path class="b" d="M583.5 704.5l7 -7l1 0l2 2l0 1l-1 1l0 1l5 0l0 4l-5 0l0 1l1 1l0 1l-2 2l-1 0z"/>
<path class="b" d="M622.5 713.5l-7 7l0 1l2 2l1 0l1 -1l1 0l0 5l4 0l0 -5l1 0l1 1l1 0l2 -2l0 -1z"/>
<path class="b" d="M622.5 729.5l-7 7l0 1l2 2l1 0l1 -1l1 0l0 5l4 0l0 -5l1 0l1 1l1 0l2 -2l0 -1z"/>
<path class="r" d="M606.5 751.5l-7 -7l0 -1l2 -2l1 0l1 1l1 0l0 -5l4 0l0 5l1 0l1 -1l1 0l2 2l0 1z"/>
<path class="b" d="M583.5 752.5l7 -7l1 0l2 2l0 1l-1 1l0 1l5 0l0 4l-5 0l0 1l1 1l0 1l-2 2l-1 0z"/>
<path class="b" d="M606.5 775.5l-7 -7l0 -1l2 -2l1 0l1 1l1 0l0 -5l4 0l0 5l1 0l1 -1l1 0l2 2l0 1z"/>
<path class="b" d="M622.5 777.5l-7 7l0 1l2 2l1 0l1 -1l1 0l0 5l4 0l0 -5l1 0l1 1l1 0l2 -2l0 -1z"/>
<path class="b" d="M583.5 800.5l7 -7l1 0l2 2l0 1l-1 1l0 1l5 0l0 4l-5 0l0 1l1 1l0 1l-2 2l-1 0z"/>
<path class="r" d="M606.5 815.5l-7 -7l0 -1l2 -2l1 0l1 1l1 0l0 -5l4 0l0 5l1 0l1 -1l1 0l2 2l0 1z"/>
<path class="b" d="M583.5 816.5l7 -7l1 0l2 2l0 1l-1 1l0 1l5 0l0 4l-5 0l0 1l1 1l0 1l-2 2l-1 0z"/>
<path class="r" d="M686.5 63.5l-7 -7l0 -1l2 -2l1 0l1 1l1 0l0 -5l4 0l0 5l1 0l1 -1l1 0l2 2l0 1z"/>
<path class="r" d="M702.5 65.5l-7 7l0 1l2 2l1 0l1 -1l1 0l0 5l4 0l0 -5l1 0l1 1l1 0l2 -2l0 -1z"/>
<path class="r" d="M725.5 88.5l-7 -7l-1 0l-2 2l0 1l1 1l0 1l-5 0l0 4l5 0l0 1l-1 1l0 1l2 2l1 0z"/>
<path class="r" d="M702.5 97.5l-7 7l0 1l2 2l1 0l1 -1l1 0l0 5l4 0l0 -5l1 0l1 1l1 0l2 -2l0 -1z"/>
<path class="r" d="M702.5 113.5l-7 7l0 1l2 2l1 0l1 -1l1 0l0 5l4 0l0 -5l1 0l1 1l1 0l2 -2l0 -1z"/>
<path class="r" d="M663.5 136.5l7 -7l1 0l2 2l0 1l-1 1l0 1l5 0l0 4l-5 0l0 1l1 1l0 1l-2 2l-1 0z"/>
<path class="r" d="M725.5 152.5l-7 -7l-1 0l-2 2l0 1l1 1l0 1l-5 0l0 4l5 0l0 1l-1 1l0 1l2 2l1 0z"/>
<path class="r" d="M686.5 175.5l-7 -7l0 -1l2 -2l1 0l1 1l1 0l0 -5l4 0l0 5l1 0l1 -1l1 0l2 2l0 1z"/>
<path class="b" d="M702.5 169.5l-7 7l0 1l2 2l1 0l1 -1l1 0l0 5l4 0l0 -5l1 0l1 1l1 0l2 -2l0 -1z"/>
<path class="b" d="M725.5 192.5l-7 -7l-1 0l-2 2l0 1l1 1l0 1l-5 0l0 4l5 0l0 1l-1 1l0 1l2 2l1 0z"/>
<path class="b" d="M686.5 215.5l-7 -7l0 -1l2 -2l1 0l1 1l1 0l0 -5l4 0l0 5l1 0l1 -1l1 0l2 2l0 1z"/>
<path class="b" d="M663.5 224.5l7 -7l1 0l2 2l0 1l-1 1l0 1l5 0l0 4l-5 0l0 1l1 1l0 1l-2 2l-1 0z"/>
<path class="r" d="M702.5 225.5l-7 7l0 1l2 2l1 0l1 -1l1 0l0 5l4 0l0 -5l1 0l1 1l1 0l2 -2l0 -1z"/>
<path class="r" d="M702.5 241.5l-7 7l0 1l2 2l1 0l1 -1l1 0l0 5l4 0l0 -5l1 0l1 1l1 0l2 -2l0 -1z"/>
<path class="b" d="M686.5 263.5l-7 -7l0 -1l2 -2l1 0l1 1l1 0l0 -5l4 0l0 5l1 0l1 -1l1 0l2 2l0 1z"/>
<path class="r" d="M725.5 264.5l-7 -7l-1 0l-2 2l0 1l1 1l0 1l-5 0l0 4l5 0l0 1l-1 1l0 1l2 2l1 0z"/>
<path class="r" d="M702.5 273.5l-7 7l0 1l2 2l1 0l1 -1l1 0l0 5l4 0l0 -5l1 0l1 1l1 0l2 -2l0 -1z"/>
<path class="b" d="M663.5 288.5l7 -7l1 0l2 2l0 1l-1 1l0 1l5 0l0 4l-5 0l0 1l1 1l0 1l-2 2l-1 0z"/>
<path class="r" d="M686.5 303.5l-7 -7l0 -1l2 -2l1 0l1 1l1 0l0 -5l4 0l0 5l1 0l1 -1l1 0l2 2l0 1z"/>
<path class="r" d="M725.5 312.5l-7 -7l-1 0l-2 2l0 1l1 1l0 1l-5 0l0 4l5 0l0 1l-1 1l0 1l2 2l1 0z"/>
<path class="b" d="M702.5 313.5l-7 7l0 1l2 2l1 0l1 -1l1 0l0 5l4 0l0 -5l1 0l1 1l1 0l2 -2l0 -1z"/>
<path class="r" d="M663.5 328.5l7 -7l1 0l2 2l0 1l-1 1l0 1l5 0l0 4l-5 0l0 1l1 1l0 1l-2 2l-1 0z"/>
<path class="r" d="M686.5 351.5l-7 -7l0 -1l2 -2l1 0l1 1l1 0l0 -5l4 0l0 5l1 0l1 -1l1 0l2 2l0 1z"/>
<path class="r" d="M663.5 360.5l7 -7l1 0l2 2l0 1l-1 1l0 1l5 0l0 4l-5 0l0 1l1 1l0 1l-2 2l-1 0z"/>
<path class="r" d="M702.5 369.5l-7 7l0 1l2 2l1 0l1 -1l1 0l0 5l4 0l0 -5l1 0l1 1l1 0l2 -2l0 -1z"/>
<path class="b" d="M686.5 391.5l-7 -7l0 -1l2 -2l1 0l1 1l1 0l0 -5l4 0l0 5l1 0l1 -1l1 0l2 2l0 1z"/>
<path class="b" d="M702.5 393.5l-7 7l0 1l2 2l1 0l1 -1l1 0l0 5l4 0l0 -5l1 0l1 1l1 0l2 -2l0 -1z"/>
<path class="r" d="M725.5 408.5l-7 -7l-1 0l-2 2l0 1l1 1l0 1l-5 0l0 4l5 0l0 1l-1 1l0 1l2 2l1 0z"/>
<path class="b" d="M663.5 416.5l7 -7l1 0l2 2l0 1l-1 1l0 1l5 0l0 4l-5 0l0 1l1 1l0 1l-2 2l-1 0z"/>
<path class="b" d="M725.5 432.5l-7 -7l-1 0l-2 2l0 1l1 1l0 1l-5 0l0 4l5 0l0 1l-1 1l0 1l2 2l1 0z"/>
<path class="b" d="M702.5 441.5l-7 7l0 1l2 2l1 0l1 -1l1 0l0 5l4 0l0 -5l1 0l1 1l1 0l2 -2l0 -1z"/>
<path class="b" d="M702.5 457.5l-7 7l0 1l2 2l1 0l1 -1l1 0l0 5l4 0l0 -5l1 0l1 1l1 0l2 -2l0 -1z"/>
<path class="r" d="M725.5 472.5l-7 -7l-1 0l-2 2l0 1l1 1l0 1l-5 0l0 4l5 0l0 1l-1 1l0 1l2 2l1 0z"/>
<path class="r" d="M702.5 481.5l-7 7l0 1l2 2l1 0l1 -1l1 0l0 5l4 0l0 -5l1 0l1 1l1 0l2 -2l0 -1z"/>
<path class="b" d="M686.5 503.5l-7 -7l0 -1l2 -2l1 0l1 1l1 0l0 -5l4 0l0 5l1 0l1 -1l1 0l2 2l0 1z"/>
<path class="r" d="M725.5 504.5l-7 -7l-1 0l-2 2l0 1l1 1l0 1l-5 0l0 4l5 0l0 1l-1 1l0 1l2 2l1 0z"/>
<path class="r" d="M725.5 520.5l-7 -7l-1 0l-2 2l0 1l1 1l0 1l-5 0l0 4l5 0l0 1l-1 1l0 1l2 2l1 0z"/>
<path class="b" d="M686.5 535.5l-7 -7l0 -1l2 -2l1 0l1 1l1 0l0 -5l4 0l0 5l1 0l1 -1l1 0l2 2l0 1z"/>
<path class="r" d="M725.5 536.5l-7 -7l-1 0l-2 2l0 1l1 1l0 1l-5 0l0 4l5 0l0 1l-1 1l0 1l2 2l1 0z"/>
<path class="r" d="M686.5 559.5l-7 -7l0 -1l2 -2l1 0l1 1l1 0l0 -5l4 0l0 5l1 0l1 -1l1 0l2 2l0 1z"/>
<path class="b" d="M663.5 560.5l7 -7l1 0l2 2l0 1l-1 1l0 1l5 0l0 4l-5 0l0 1l1 1l0 1l-2 2l-1 0z"/>
<path class="r" d="M663.5 568.5l7 -7l1 0l2 2l0 1l-1 1l0 1l5 0l0 4l-5 0l0 1l1 1l0 1l-2 2l-1 0z"/>
<path class="r" d="M686.5 575.5l-7 -7l0 -1l2 -2l1 0l1 1l1 0l0 -5l4 0l0 5l1 0l1 -1l1 0l2 2l0 1z"/>
<path class="r" d="M725.5 584.5l-7 -7l-1 0l-2 2l0 1l1 1l0 1l-5 0l0 4l5 0l0 1l-1 1l0 1l2 2l1 0z"/>
<path class="r" d="M725.5 600.5l-7 -7l-1 0l-2 2l0 1l1 1l0 1l-5 0l0 4l5 0l0 1l-1 1l0 1l2 2l1 0z"/>
<path class="r" d="M686.5 623.5l-7 -7l0 -1l2 -2l1 0l1 1l1 0l0 -5l4 0l0 5l1 0l1 -1l1 0l2 2l0 1z"/>
<path class="r" d="M702.5 625.5l-7 7l0 1l2 2l1 0l1 -1l1 0l0 5l4 0l0 -5l1 0l1 1l1 0l2 -2l0 -1z"/>
<path class="r" d="M686.5 655.5l-7 -7l0 -1l2 -2l1 0l1 1l1 0l0 -5l4 0l0 5l1 0l1 -1l1 0l2 2l0 1z"/>
<path class="r" d="M686.5 671.5l-7 -7l0 -1l2 -2l1 0l1 1l1 0l0 -5l4 0l0 5l1 0l1 -1l1 0l2 2l0 1z"/>
<path class="r" d="M686.5 687.5l-7 -7l0 -1l2 -2l1 0l1 1l1 0l0 -5l4 0l0 5l1 0l1 -1l1 0l2 2l0 1z"/>
<path class="b" d="M663.5 688.5l7 -7l1 0l2 2l0 1l-1 1l0 1l5 0l0 4l-5 0l0 1l1 1l0 1l-2 2l-1 0z"/>
<path class="b" d="M702.5 697.5l-7 7l0 1l2 2l1 0l1 -1l1 0l0 5l4 0l0 -5l1 0l1 1l1 0l2 -2l0 -1z"/>
<path class="b" d="M725.5 704.5l-7 -7l-1 0l-2 2l0 1l1 1l0 1l-5 0l0 4l5 0l0 1l-1 1l0 1l2 2l1 0z"/>
<path class="b" d="M663.5 720.5l7 -7l1 0l2 2l0 1l-1 1l0 1l5 0l0 4l-5 0l0 1l1 1l0 1l-2 2l-1 0z"/>
<path class="b" d="M702.5 713.5l-7 7l0 1l2 2l1 0l1 -1l1 0l0 5l4 0l0 -5l1 0l1 1l1 0l2 -2l0 -1z"/>
<path class="b" d="M686.5 743.5l-7 -7l0 -1l2 -2l1 0l1 1l1 0l0 -5l4 0l0 5l1 0l1 -1l1 0l2 2l0 1z"/>
<path class="r" d="M725.5 744.5l-7 -7l-1 0l-2 2l0 1l1 1l0 1l-5 0l0 4l5 0l0 1l-1 1l0 1l2 2l1 0z"/>
<path class="r" d="M702.5 753.5l-7 7l0 1l2 2l1 0l1 -1l1 0l0 5l4 0l0 -5l1 0l1 1l1 0l2 -2l0 -1z"/>
<path class="b" d="M725.5 768.5l-7 -7l-1 0l-2 2l0 1l1 1l0 1l-5 0l0 4l5 0l0 1l-1 1l0 1l2 2l1 0z"/>
<path class="r" d="M702.5 769.5l-7 7l0 1l2 2l1 0l1 -1l1 0l0 5l4 0l0 -5l1 0l1 1l1 0l2 -2l0 -1z"/>
<path class="r" d="M702.5 785.5l-7 7l0 1l2 2l1 0l1 -1l1 0l0 5l4 0l0 -5l1 0l1 1l1 0l2 -2l0 -1z"/>
<path class="b" d="M663.5 800.5l7 -7l1 0l2 2l0 1l-1 1l0 1l5 0l0 4l-5 0l0 1l1 1l0 1l-2 2l-1 0z"/>
<path class="b" d="M686.5 823.5l-7 -7l0 -1l2 -2l1 0l1 1l1 0l0 -5l4 0l0 5l1 0l1 -1l1 0l2 2l0 1z"/>
<path class="b" d="M782.5 57.5l-7 7l0 1l2 2l1 0l1 -1l1 0l0 5l4 0l0 -5l1 0l1 1l1 0l2 -2l0 -1z"/>
<path class="r" d="M805.5 72.5l-7 -7l-1 0l-2 2l0 1l1 1l0 1l-5 0l0 4l5 0l0 1l-1 1l0 1l2 2l1 0z"/>
<path class="b" d="M766.5 87.5l-7 -7l0 -1l2 -2l1 0l1 1l1 0l0 -5l4 0l0 5l1 0l1 -1l1 0l2 2l0 1z"/>
<path class="r" d="M782.5 81.5l-7 7l0 1l2 2l1 0l1 -1l1 0l0 5l4 0l0 -5l1 0l1 1l1 0l2 -2l0 -1z"/>
<path class="r" d="M766.5 111.5l-7 -7l0 -1l2 -2l1 0l1 1l1 0l0 -5l4 0l0 5l1 0l1 -1l1 0l2 2l0 1z"/>
<path class="b" d="M743.5 112.5l7 -7l1 0l2 2l0 1l-1 1l0 1l5 0l0 4l-5 0l0 1l1 1l0 1l-2 2l-1 0z"/>
<path class="b" d="M782.5 121.5l-7 7l0 1l2 2l1 0l1 -1l1 0l0 5l4 0l0 -5l1 0l1 1l1 0l2 -2l0 -1z"/>
<path class="b" d="M743.5 144.5l7 -7l1 0l2 2l0 1l-1 1l0 1l5 0l0 4l-5 0l0 1l1 1l0 1l-2 2l-1 0z"/>
<path class="b" d="M766.5 167.5l-7 -7l0 -1l2 -2l1 0l1 1l1 0l0 -5l4 0l0 5l1 0l1 -1l1 0l2 2l0 1z"/>
<path class="r" d="M805.5 168.5l-7 -7l-1 0l-2 2l0 1l1 1l0 1l-5 0l0 4l5 0l0 1l-1 1l0 1l2 2l1 0z"/>
<path class="b" d="M743.5 176.5l7 -7l1 0l2 2l0 1l-1 1l0 1l5 0l0 4l-5 0l0 1l1 1l0 1l-2 2l-1 0z"/>
<path class="r" d="M766.5 191.5l-7 -7l0 -1l2 -2l1 0l1 1l1 0l0 -5l4 0l0 5l1 0l1 -1l1 0l2 2l0 1z"/>
<path class="r" d="M766.5 207.5l-7 -7l0 -1l2 -2l1 0l1 1l1 0l0 -5l4 0l0 5l1 0l1 -1l1 0l2 2l0 1z"/>
<path class="b" d="M743.5 208.5l7 -7l1 0l2 2l0 1l-1 1l0 1l5 0l0 4l-5 0l0 1l1 1l0 1l-2 2l-1 0z"/>
<path class="r" d="M766.5 223.5l-7 -7l0 -1l2 -2l1 0l1 1l1 0l0 -5l4 0l0 5l1 0l1 -1l1 0l2 2l0 1z"/>
<path class="r" d="M805.5 232.5l-7 -7l-1 0l-2 2l0 1l1 1l0 1l-5 0l0 4l5 0l0 1l-1 1l0 1l2 2l1 0z"/>
<path class="r" d="M743.5 248.5l7 -7l1 0l2 2l0 1l-1 1l0 1l5 0l0 4l-5 0l0 1l1 1l0 1l-2 2l-1 0z"/>
<path class="r" d="M805.5 264.5l-7 -7l-1 0l-2 2l0 1l1 1l0 1l-5 0l0 4l5 0l0 1l-1 1l0 1l2 2l1 0z"/>
<path class="b" d="M782.5 265.5l-7 7l0 1l2 2l1 0l1 -1l1 0l0 5l4 0l0 -5l1 0l1 1l1 0l2 -2l0 -1z"/>
<path class="r" d="M766.5 287.5l-7 -7l0 -1l2 -2l1 0l1 1l1 0l0 -5l4 0l0 5l1 0l1 -1l1 0l2 2l0 1z"/>
<path class="r" d="M805.5 296.5l-7 -7l-1 0l-2 2l0 1l1 1l0 1l-5 0l0 4l5 0l0 1l-1 1l0 1l2 2l1 0z"/>
<path class="b" d="M766.5 311.5l-7 -7l0 -1l2 -2l1 0l1 1l1 0l0 -5l4 0l0 5l1 0l1 -1l1 0l2 2l0 1z"/>
<path class="r" d="M782.5 305.5l-7 7l0 1l2 2l1 0l1 -1l1 0l0 5l4 0l0 -5l1 0l1 1l1 0l2 -2l0 -1z"/>
<path class="r" d="M805.5 328.5l-7 -7l-1 0l-2 2l0 1l1 1l0 1l-5 0l0 4l5 0l0 1l-1 1l0 1l2 2l1 0z"/>
<path class="b" d="M766.5 343.5l-7 -7l0 -1l2 -2l1 0l1 1l1 0l0 -5l4 0l0 5l1 0l1 -1l1 0l2 2l0 1z"/>
<path class="r" d="M805.5 344.5l-7 -7l-1 0l-2 2l0 1l1 1l0 1l-5 0l0 4l5 0l0 1l-1 1l0 1l2 2l1 0z"/>
<path class="r" d="M766.5 367.5l-7 -7l0 -1l2 -2l1 0l1 1l1 0l0 -5l4 0l0 5l1 0l1 -1l1 0l2 2l0 1z"/>
<path class="r" d="M766.5 383.5l-7 -7l0 -1l2 -2l1 0l1 1l1 0l0 -5l4 0l0 5l1 0l1 -1l1 0l2 2l0 1z"/>
<path class="r" d="M766.5 399.5l-7 -7l0 -1l2 -2l1 0l1 1l1 0l0 -5l4 0l0 5l1 0l1 -1l1 0l2 2l0 1z"/>
<path class="r" d="M766.5 415.5l-7 -7l0 -1l2 -2l1 0l1 1l1 0l0 -5l4 0l0 5l1 0l1 -1l1 0l2 2l0 1z"/>
<path class="r" d="M766.5 431.5l-7 -7l0 -1l2 -2l1 0l1 1l1 0l0 -5l4 0l0 5l1 0l1 -1l1 0l2 2l0 1z"/>
<path class="b" d="M743.5 432.5l7 -7l1 0l2 2l0 1l-1 1l0 1l5 0l0 4l-5 0l0 1l1 1l0 1l-2 2l-1 0z"/>
<path class="b" d="M805.5 448.5l-7 -7l-1 0l-2 2l0 1l1 1l0 1l-5 0l0 4l5 0l0 1l-1 1l0 1l2 2l1 0z"/>
<path class="b" d="M766.5 471.5l-7 -7l0 -1l2 -2l1 0l1 1l1 0l0 -5l4 0l0 5l1 0l1 -1l1 0l2 2l0 1z"/>
<path class="b" d="M743.5 480.5l7 -7l1 0l2 2l0 1l-1 1l0 1l5 0l0 4l-5 0l0 1l1 1l0 1l-2 2l-1 0z"/>
<path class="r" d="M782.5 481.5l-7 7l0 1l2 2l1 0l1 -1l1 0l0 5l4 0l0 -5l1 0l1 1l1 0l2 -2l0 -1z"/>
<path class="r" d="M766.5 511.5l-7 -7l0 -1l2 -2l1 0l1 1l1 0l0 -5l4 0l0 5l1 0l1 -1l1 0l2 2l0 1z"/>
<path class="r" d="M805.5 520.5l-7 -7l-1 0l-2 2l0 1l1 1l0 1l-5 0l0 4l5 0l0 1l-1 1l0 1l2 2l1 0z"/>
<path class="b" d="M743.5 528.5l7 -7l1 0l2 2l0 1l-1 1l0 1l5 0l0 4l-5 0l0 1l1 1l0 1l-2 2l-1 0z"/>
<path class="r" d="M805.5 536.5l-7 -7l-1 0l-2 2l0 1l1 1l0 1l-5 0l0 4l5 0l0 1l-1 1l0 1l2 2l1 0z"/>
<path class="r" d="M782.5 545.5l-7 7l0 1l2 2l1 0l1 -1l1 0l0 5l4 0l0 -5l1 0l1 1l1 0l2 -2l0 -1z"/>
<path class="r" d="M743.5 568.5l7 -7l1 0l2 2l0 1l-1 1l0 1l5 0l0 4l-5 0l0 1l1 1l0 1l-2 2l-1 0z"/>
<path class="b" d="M805.5 576.5l-7 -7l-1 0l-2 2l0 1l1 1l0 1l-5 0l0 4l5 0l0 1l-1 1l0 1l2 2l1 0z"/>
<path class="r" d="M743.5 584.5l7 -7l1 0l2 2l0 1l-1 1l0 1l5 0l0 4l-5 0l0 1l1 1l0 1l-2 2l-1 0z"/>
<path class="b" d="M805.5 592.5l-7 -7l-1 0l-2 2l0 1l1 1l0 1l-5 0l0 4l5 0l0 1l-1 1l0 1l2 2l1 0z"/>
<path class="r" d="M782.5 593.5l-7 7l0 1l2 2l1 0l1 -1l1 0l0 5l4 0l0 -5l1 0l1 1l1 0l2 -2l0 -1z"/>
<path class="b" d="M766.5 615.5l-7 -7l0 -1l2 -2l1 0l1 1l1 0l0 -5l4 0l0 5l1 0l1 -1l1 0l2 2l0 1z"/>
<path class="r" d="M782.5 609.5l-7 7l0 1l2 2l1 0l1 -1l1 0l0 5l4 0l0 -5l1 0l1 1l1 0l2 -2l0 -1z"/>
<path class="b" d="M766.5 631.5l-7 -7l0 -1l2 -2l1 0l1 1l1 0l0 -5l4 0l0 5l1 0l1 -1l1 0l2 2l0 1z"/>
<path class="r" d="M743.5 632.5l7 -7l1 0l2 2l0 1l-1 1l0 1l5 0l0 4l-5 0l0 1l1 1l0 1l-2 2l-1 0z"/>
<path class="b" d="M805.5 640.5l-7 -7l-1 0l-2 2l0 1l1 1l0 1l-5 0l0 4l5 0l0 1l-1 1l0 1l2 2l1 0z"/>
<path class="r" d="M766.5 655.5l-7 -7l0 -1l2 -2l1 0l1 1l1 0l0 -5l4 0l0 5l1 0l1 -1l1 0l2 2l0 1z"/>
<path class="b" d="M782.5 649.5l-7 7l0 1l2 2l1 0l1 -1l1 0l0 5l4 0l0 -5l1 0l1 1l1 0l2 -2l0 -1z"/>
<path class="r" d="M743.5 664.5l7 -7l1 0l2 2l0 1l-1 1l0 1l5 0l0 4l-5 0l0 1l1 1l0 1l-2 2l-1 0z"/>
<path class="b" d="M805.5 672.5l-7 -7l-1 0l-2 2l0 1l1 1l0 1l-5 0l0 4l5 0l0 1l-1 1l0 1l2 2l1 0z"/>
<path class="r" d="M743.5 680.5l7 -7l1 0l2 2l0 1l-1 1l0 1l5 0l0 4l-5 0l0 1l1 1l0 1l-2 2l-1 0z"/>
<path class="b" d="M805.5 688.5l-7 -7l-1 0l-2 2l0 1l1 1l0 1l-5 0l0 4l5 0l0 1l-1 1l0 1l2 2l1 0z"/>
<path class="r" d="M766.5 703.5l-7 -7l0 -1l2 -2l1 0l1 1l1 0l0 -5l4 0l0 5l1 0l1 -1l1 0l2 2l0 1z"/>
<path class="b" d="M782.5 697.5l-7 7l0 1l2 2l1 0l1 -1l1 0l0 5l4 0l0 -5l1 0l1 1l1 0l2 -2l0 -1z"/>
<path class="r" d="M766.5 719.5l-7 -7l0 -1l2 -2l1 0l1 1l1 0l0 -5l4 0l0 5l1 0l1 -1l1 0l2 2l0 1z"/>
<path class="b" d="M782.5 713.5l-7 7l0 1l2 2l1 0l1 -1l1 0l0 5l4 0l0 -5l1 0l1 1l1 0l2 -2l0 -1z"/>
<path class="r" d="M743.5 728.5l7 -7l1 0l2 2l0 1l-1 1l0 1l5 0l0 4l-5 0l0 1l1 1l0 1l-2 2l-1 0z"/>
<path class="b" d="M805.5 736.5l-7 -7l-1 0l-2 2l0 1l1 1l0 1l-5 0l0 4l5 0l0 1l-1 1l0 1l2 2l1 0z"/>
<path class="r" d="M743.5 744.5l7 -7l1 0l2 2l0 1l-1 1l0 1l5 0l0 4l-5 0l0 1l1 1l0 1l-2 2l-1 0z"/>
<path class="b" d="M805.5 752.5l-7 -7l-1 0l-2 2l0 1l1 1l0 1l-5 0l0 4l5 0l0 1l-1 1l0 1l2 2l1 0z"/>
<path class="r" d="M766.5 767.5l-7 -7l0 -1l2 -2l1 0l1 1l1 0l0 -5l4 0l0 5l1 0l1 -1l1 0l2 2l0 1z"/>
<path class="b" d="M782.5 761.5l-7 7l0 1l2 2l1 0l1 -1l1 0l0 5l4 0l0 -5l1 0l1 1l1 0l2 -2l0 -1z"/>
<path class="r" d="M743.5 776.5l7 -7l1 0l2 2l0 1l-1 1l0 1l5 0l0 4l-5 0l0 1l1 1l0 1l-2 2l-1 0z"/>
<path class="b" d="M782.5 777.5l-7 7l0 1l2 2l1 0l1 -1l1 0l0 5l4 0l0 -5l1 0l1 1l1 0l2 -2l0 -1z"/>
<path class="r" d="M743.5 792.5l7 -7l1 0l2 2l0 1l-1 1l0 1l5 0l0 4l-5 0l0 1l1 1l0 1l-2 2l-1 0z"/>
<path class="b" d="M805.5 800.5l-7 -7l-1 0l-2 2l0 1l1 1l0 1l-5 0l0 4l5 0l0 1l-1 1l0 1l2 2l1 0z"/>
<path class="r" d="M782.5 801.5l-7 7l0 1l2 2l1 0l1 -1l1 0l0 5l4 0l0 -5l1 0l1 1l1 0l2 -2l0 -1z"/>
<path class="b" d="M805.5 816.5l-7 -7l-1 0l-2 2l0 1l1 1l0 1l-5 0l0 4l5 0l0 1l-1 1l0 1l2 2l1 0z"/>
<path class="r" d="M862.5 49.5l-7 7l0 1l2 2l1 0l1 -1l1 0l0 5l4 0l0 -5l1 0l1 1l1 0l2 -2l0 -1z"/>
<path class="b" d="M885.5 64.5l-7 -7l-1 0l-2 2l0 1l1 1l0 1l-5 0l0 4l5 0l0 1l-1 1l0 1l2 2l1 0z"/>
<path class="b" d="M862.5 105.5l-7 7l0 1l2 2l1 0l1 -1l1 0l0 5l4 0l0 -5l1 0l1 1l1 0l2 -2l0 -1z"/>
<path class="r" d="M846.5 143.5l-7 -7l0 -1l2 -2l1 0l1 1l1 0l0 -5l4 0l0 5l1 0l1 -1l1 0l2 2l0 1z"/>
<path class="b" d="M846.5 151.5l-7 -7l0 -1l2 -2l1 0l1 1l1 0l0 -5l4 0l0 5l1 0l1 -1l1 0l2 2l0 1z"/>
<path class="r" d="M823.5 168.5l7 -7l1 0l2 2l0 1l-1 1l0 1l5 0l0 4l-5 0l0 1l1 1l0 1l-2 2l-1 0z"/>
</svg>
</body></html>
